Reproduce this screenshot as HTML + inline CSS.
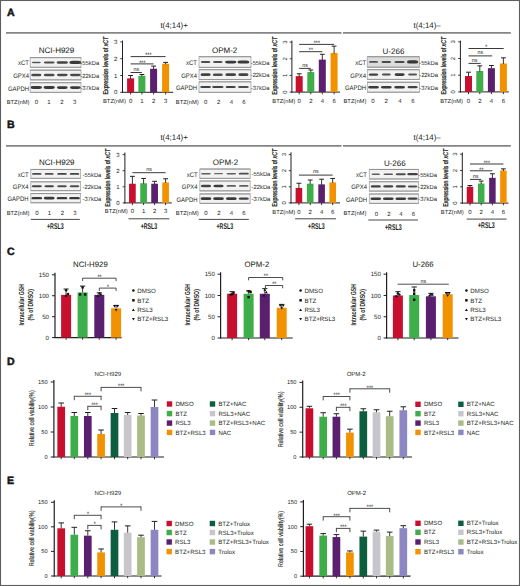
<!DOCTYPE html>
<html><head><meta charset="utf-8"><style>
html,body{margin:0;padding:0;background:#fff;}
svg{display:block;}
text{font-family:'Liberation Sans', sans-serif;fill:#231f20;text-rendering:geometricPrecision;}
text.t{stroke:#231f20;stroke-width:0.04px;}
</style></head><body>
<svg width="520" height="586" viewBox="0 0 520 586">
<defs><filter id="bl" x="-50%" y="-100%" width="200%" height="300%"><feGaussianBlur stdDeviation="0.68"/></filter></defs>
<rect width="520" height="586" fill="#fff"/>
<rect x="0.5" y="0.5" width="519" height="585" fill="none" stroke="#5e5e5e" stroke-width="1.1"/>
<text x="6.9" y="15.54" font-size="10.6" font-weight="bold" fill="#000" stroke="#000" stroke-width="0.45">A</text>
<text x="6.9" y="127.99" font-size="10.6" font-weight="bold" fill="#000" stroke="#000" stroke-width="0.45">B</text>
<text x="6.9" y="254.59" font-size="10.6" font-weight="bold" fill="#000" stroke="#000" stroke-width="0.45">C</text>
<text x="6.9" y="364.64" font-size="10.6" font-weight="bold" fill="#000" stroke="#000" stroke-width="0.45">D</text>
<text x="6.9" y="483.69" font-size="10.6" font-weight="bold" fill="#000" stroke="#000" stroke-width="0.45">E</text>
<line x1="6.00" y1="32.90" x2="341.50" y2="32.90" stroke="#858585" stroke-width="1.8"/>
<line x1="343.00" y1="32.90" x2="510.80" y2="32.90" stroke="#858585" stroke-width="1.8"/>
<line x1="6.00" y1="145.80" x2="341.50" y2="145.80" stroke="#858585" stroke-width="1.8"/>
<line x1="343.00" y1="145.80" x2="510.80" y2="145.80" stroke="#858585" stroke-width="1.8"/>
<text x="174.10" y="28.03" font-size="7.9" text-anchor="middle">t(4;14)+</text>
<text x="427.10" y="28.03" font-size="7.9" text-anchor="middle">t(4;14)–</text>
<text x="174.10" y="140.23" font-size="7.9" text-anchor="middle">t(4;14)+</text>
<text x="427.10" y="140.23" font-size="7.9" text-anchor="middle">t(4;14)–</text>
<text x="56.50" y="53.26" font-size="8.0" class="t" text-anchor="middle">NCI-H929</text>
<rect x="30.20" y="57.50" width="50.80" height="9.90" fill="#f2f2f2" stroke="#a8a8a8" stroke-width="0.8"/>
<line x1="30.20" y1="57.70" x2="81.00" y2="57.70" stroke="#8c8c8c" stroke-width="0.9"/>
<line x1="30.20" y1="67.20" x2="81.00" y2="67.20" stroke="#929292" stroke-width="0.9"/>
<rect x="31.80" y="61.65" width="9.00" height="1.60" rx="1.44" ry="0.80" fill="#1c1c1c" opacity="0.73" filter="url(#bl)"/>
<rect x="43.80" y="61.45" width="10.80" height="2.00" rx="1.80" ry="1.00" fill="#1c1c1c" opacity="0.77" filter="url(#bl)"/>
<rect x="56.60" y="61.15" width="11.40" height="2.60" rx="2.34" ry="1.30" fill="#1c1c1c" opacity="0.82" filter="url(#bl)"/>
<rect x="69.30" y="60.85" width="12.00" height="3.20" rx="2.88" ry="1.60" fill="#1c1c1c" opacity="0.86" filter="url(#bl)"/>
<text transform="translate(29.00,65.41) scale(0.9,1)" font-size="6.6" text-anchor="end">xCT</text>
<text transform="translate(80.40,65.10) scale(0.97,1)" font-size="6.0">-55kDa</text>
<rect x="30.20" y="70.00" width="50.80" height="10.00" fill="#f2f2f2" stroke="#a8a8a8" stroke-width="0.8"/>
<line x1="30.20" y1="70.20" x2="81.00" y2="70.20" stroke="#8c8c8c" stroke-width="0.9"/>
<line x1="30.20" y1="79.80" x2="81.00" y2="79.80" stroke="#929292" stroke-width="0.9"/>
<rect x="31.20" y="73.80" width="10.20" height="2.40" rx="2.16" ry="1.20" fill="#1c1c1c" opacity="0.79" filter="url(#bl)"/>
<rect x="43.80" y="73.80" width="10.80" height="2.40" rx="2.16" ry="1.20" fill="#1c1c1c" opacity="0.79" filter="url(#bl)"/>
<rect x="56.90" y="73.85" width="10.80" height="2.30" rx="2.07" ry="1.15" fill="#1c1c1c" opacity="0.79" filter="url(#bl)"/>
<rect x="69.90" y="73.85" width="10.80" height="2.30" rx="2.07" ry="1.15" fill="#1c1c1c" opacity="0.79" filter="url(#bl)"/>
<text transform="translate(29.00,77.96) scale(0.9,1)" font-size="6.6" text-anchor="end">GPX4</text>
<text transform="translate(80.40,77.65) scale(0.97,1)" font-size="6.0">-22kDa</text>
<rect x="30.20" y="82.60" width="50.80" height="9.90" fill="#f2f2f2" stroke="#a8a8a8" stroke-width="0.8"/>
<line x1="30.20" y1="82.80" x2="81.00" y2="82.80" stroke="#8c8c8c" stroke-width="0.9"/>
<line x1="30.20" y1="92.30" x2="81.00" y2="92.30" stroke="#929292" stroke-width="0.9"/>
<rect x="30.60" y="86.10" width="11.40" height="2.90" rx="2.61" ry="1.45" fill="#1c1c1c" opacity="0.86" filter="url(#bl)"/>
<rect x="43.50" y="86.10" width="11.40" height="2.90" rx="2.61" ry="1.45" fill="#1c1c1c" opacity="0.86" filter="url(#bl)"/>
<rect x="56.90" y="86.20" width="10.80" height="2.70" rx="2.43" ry="1.35" fill="#1c1c1c" opacity="0.86" filter="url(#bl)"/>
<rect x="69.90" y="86.20" width="10.80" height="2.70" rx="2.43" ry="1.35" fill="#1c1c1c" opacity="0.86" filter="url(#bl)"/>
<text transform="translate(29.00,90.51) scale(0.9,1)" font-size="6.6" text-anchor="end">GAPDH</text>
<text transform="translate(80.40,90.20) scale(0.97,1)" font-size="6.0">-37kDa</text>
<text x="6.70" y="103.58" font-size="5.8">BTZ(nM)</text>
<text x="36.50" y="103.65" font-size="6.0" text-anchor="middle">0</text>
<text x="49.00" y="103.65" font-size="6.0" text-anchor="middle">1</text>
<text x="62.00" y="103.65" font-size="6.0" text-anchor="middle">2</text>
<text x="74.60" y="103.65" font-size="6.0" text-anchor="middle">3</text>
<text x="224.60" y="53.26" font-size="8.0" class="t" text-anchor="middle">OPM-2</text>
<rect x="199.00" y="56.60" width="52.00" height="10.90" fill="#f2f2f2" stroke="#a8a8a8" stroke-width="0.8"/>
<line x1="199.00" y1="56.80" x2="251.00" y2="56.80" stroke="#8c8c8c" stroke-width="0.9"/>
<line x1="199.00" y1="67.30" x2="251.00" y2="67.30" stroke="#929292" stroke-width="0.9"/>
<rect x="200.80" y="61.05" width="9.60" height="2.00" rx="1.80" ry="1.00" fill="#1c1c1c" opacity="0.77" filter="url(#bl)"/>
<rect x="213.00" y="61.05" width="9.60" height="2.00" rx="1.80" ry="1.00" fill="#1c1c1c" opacity="0.77" filter="url(#bl)"/>
<rect x="225.00" y="60.65" width="11.40" height="2.80" rx="2.52" ry="1.40" fill="#1c1c1c" opacity="0.86" filter="url(#bl)"/>
<rect x="237.40" y="60.55" width="12.00" height="3.00" rx="2.70" ry="1.50" fill="#1c1c1c" opacity="0.86" filter="url(#bl)"/>
<text transform="translate(197.00,65.01) scale(0.9,1)" font-size="6.6" text-anchor="end">xCT</text>
<text transform="translate(250.70,64.70) scale(0.97,1)" font-size="6.0">-55kDa</text>
<rect x="199.00" y="69.60" width="52.00" height="10.10" fill="#f2f2f2" stroke="#a8a8a8" stroke-width="0.8"/>
<line x1="199.00" y1="69.80" x2="251.00" y2="69.80" stroke="#8c8c8c" stroke-width="0.9"/>
<line x1="199.00" y1="79.50" x2="251.00" y2="79.50" stroke="#929292" stroke-width="0.9"/>
<rect x="200.50" y="73.35" width="10.20" height="2.60" rx="2.34" ry="1.30" fill="#1c1c1c" opacity="0.82" filter="url(#bl)"/>
<rect x="212.70" y="73.40" width="10.20" height="2.50" rx="2.25" ry="1.25" fill="#1c1c1c" opacity="0.77" filter="url(#bl)"/>
<rect x="225.30" y="73.35" width="10.80" height="2.60" rx="2.34" ry="1.30" fill="#1c1c1c" opacity="0.82" filter="url(#bl)"/>
<rect x="238.30" y="73.35" width="10.20" height="2.60" rx="2.34" ry="1.30" fill="#1c1c1c" opacity="0.82" filter="url(#bl)"/>
<text transform="translate(197.00,77.61) scale(0.9,1)" font-size="6.6" text-anchor="end">GPX4</text>
<text transform="translate(250.70,77.30) scale(0.97,1)" font-size="6.0">-22kDa</text>
<rect x="199.00" y="81.70" width="52.00" height="10.80" fill="#f2f2f2" stroke="#a8a8a8" stroke-width="0.8"/>
<line x1="199.00" y1="81.90" x2="251.00" y2="81.90" stroke="#8c8c8c" stroke-width="0.9"/>
<line x1="199.00" y1="92.30" x2="251.00" y2="92.30" stroke="#929292" stroke-width="0.9"/>
<rect x="200.20" y="86.10" width="10.80" height="2.00" rx="1.80" ry="1.00" fill="#1c1c1c" opacity="0.82" filter="url(#bl)"/>
<rect x="212.10" y="86.10" width="11.40" height="2.00" rx="1.80" ry="1.00" fill="#1c1c1c" opacity="0.82" filter="url(#bl)"/>
<rect x="225.60" y="86.10" width="10.20" height="2.00" rx="1.80" ry="1.00" fill="#1c1c1c" opacity="0.82" filter="url(#bl)"/>
<rect x="238.00" y="86.10" width="10.80" height="2.00" rx="1.80" ry="1.00" fill="#1c1c1c" opacity="0.77" filter="url(#bl)"/>
<text transform="translate(197.00,90.06) scale(0.9,1)" font-size="6.6" text-anchor="end">GAPDH</text>
<text transform="translate(250.70,89.75) scale(0.97,1)" font-size="6.0">-37kDa</text>
<text x="175.80" y="103.58" font-size="5.8">BTZ(nM)</text>
<text x="205.60" y="103.65" font-size="6.0" text-anchor="middle">0</text>
<text x="218.70" y="103.65" font-size="6.0" text-anchor="middle">2</text>
<text x="231.50" y="103.65" font-size="6.0" text-anchor="middle">4</text>
<text x="244.00" y="103.65" font-size="6.0" text-anchor="middle">6</text>
<text x="393.50" y="53.96" font-size="8.0" class="t" text-anchor="middle">U-266</text>
<rect x="367.30" y="56.60" width="52.10" height="10.70" fill="#dcdcdc" stroke="#a8a8a8" stroke-width="0.8"/>
<line x1="367.30" y1="56.80" x2="419.40" y2="56.80" stroke="#8c8c8c" stroke-width="0.9"/>
<line x1="367.30" y1="67.10" x2="419.40" y2="67.10" stroke="#929292" stroke-width="0.9"/>
<rect x="369.00" y="61.05" width="9.00" height="1.80" rx="1.62" ry="0.90" fill="#1c1c1c" opacity="0.73" filter="url(#bl)"/>
<rect x="381.50" y="60.95" width="9.60" height="2.00" rx="1.80" ry="1.00" fill="#1c1c1c" opacity="0.77" filter="url(#bl)"/>
<rect x="394.50" y="60.95" width="10.20" height="2.00" rx="1.80" ry="1.00" fill="#1c1c1c" opacity="0.77" filter="url(#bl)"/>
<rect x="406.90" y="60.35" width="11.40" height="3.20" rx="2.88" ry="1.60" fill="#1c1c1c" opacity="0.86" filter="url(#bl)"/>
<text transform="translate(366.10,64.91) scale(0.9,1)" font-size="6.6" text-anchor="end">xCT</text>
<text transform="translate(419.20,64.60) scale(0.97,1)" font-size="6.0">-55kDa</text>
<rect x="367.30" y="69.60" width="52.10" height="10.00" fill="#f2f2f2" stroke="#a8a8a8" stroke-width="0.8"/>
<line x1="367.30" y1="69.80" x2="419.40" y2="69.80" stroke="#8c8c8c" stroke-width="0.9"/>
<line x1="367.30" y1="79.40" x2="419.40" y2="79.40" stroke="#929292" stroke-width="0.9"/>
<rect x="368.70" y="73.40" width="9.60" height="2.40" rx="2.16" ry="1.20" fill="#1c1c1c" opacity="0.82" filter="url(#bl)"/>
<rect x="381.80" y="73.60" width="9.00" height="2.00" rx="1.80" ry="1.00" fill="#1c1c1c" opacity="0.77" filter="url(#bl)"/>
<rect x="394.50" y="73.30" width="10.20" height="2.60" rx="2.34" ry="1.30" fill="#1c1c1c" opacity="0.86" filter="url(#bl)"/>
<rect x="408.10" y="73.60" width="9.00" height="2.00" rx="1.80" ry="1.00" fill="#1c1c1c" opacity="0.73" filter="url(#bl)"/>
<text transform="translate(366.10,77.56) scale(0.9,1)" font-size="6.6" text-anchor="end">GPX4</text>
<text transform="translate(419.20,77.25) scale(0.97,1)" font-size="6.0">-22kDa</text>
<rect x="367.30" y="82.10" width="52.10" height="10.20" fill="#f2f2f2" stroke="#a8a8a8" stroke-width="0.8"/>
<line x1="367.30" y1="82.30" x2="419.40" y2="82.30" stroke="#8c8c8c" stroke-width="0.9"/>
<line x1="367.30" y1="92.10" x2="419.40" y2="92.10" stroke="#929292" stroke-width="0.9"/>
<rect x="368.10" y="86.00" width="10.80" height="2.40" rx="2.16" ry="1.20" fill="#1c1c1c" opacity="0.86" filter="url(#bl)"/>
<rect x="380.90" y="86.00" width="10.80" height="2.40" rx="2.16" ry="1.20" fill="#1c1c1c" opacity="0.86" filter="url(#bl)"/>
<rect x="394.20" y="86.00" width="10.80" height="2.40" rx="2.16" ry="1.20" fill="#1c1c1c" opacity="0.86" filter="url(#bl)"/>
<rect x="407.50" y="86.10" width="10.20" height="2.20" rx="1.98" ry="1.10" fill="#1c1c1c" opacity="0.82" filter="url(#bl)"/>
<text transform="translate(366.10,90.16) scale(0.9,1)" font-size="6.6" text-anchor="end">GAPDH</text>
<text transform="translate(419.20,89.85) scale(0.97,1)" font-size="6.0">-37kDa</text>
<text x="343.50" y="103.38" font-size="5.8">BTZ(nM)</text>
<text x="373.00" y="103.45" font-size="6.0" text-anchor="middle">0</text>
<text x="386.20" y="103.45" font-size="6.0" text-anchor="middle">2</text>
<text x="400.00" y="103.45" font-size="6.0" text-anchor="middle">4</text>
<text x="413.00" y="103.45" font-size="6.0" text-anchor="middle">6</text>
<text x="56.80" y="165.16" font-size="8.0" class="t" text-anchor="middle">NCI-H929</text>
<rect x="30.80" y="169.30" width="49.80" height="9.20" fill="#f2f2f2" stroke="#a8a8a8" stroke-width="0.8"/>
<line x1="30.80" y1="169.50" x2="80.60" y2="169.50" stroke="#8c8c8c" stroke-width="0.9"/>
<line x1="30.80" y1="178.30" x2="80.60" y2="178.30" stroke="#929292" stroke-width="0.9"/>
<rect x="32.00" y="173.00" width="9.60" height="1.80" rx="1.62" ry="0.90" fill="#1c1c1c" opacity="0.79" filter="url(#bl)"/>
<rect x="44.70" y="173.05" width="9.00" height="1.70" rx="1.53" ry="0.85" fill="#1c1c1c" opacity="0.76" filter="url(#bl)"/>
<rect x="57.20" y="172.95" width="9.60" height="1.90" rx="1.71" ry="0.95" fill="#1c1c1c" opacity="0.82" filter="url(#bl)"/>
<rect x="69.70" y="172.95" width="9.60" height="1.90" rx="1.71" ry="0.95" fill="#1c1c1c" opacity="0.82" filter="url(#bl)"/>
<text transform="translate(28.60,176.86) scale(0.9,1)" font-size="6.6" text-anchor="end">xCT</text>
<text transform="translate(82.60,176.55) scale(0.97,1)" font-size="6.0">-55kDa</text>
<rect x="30.80" y="181.70" width="49.80" height="9.10" fill="#f2f2f2" stroke="#a8a8a8" stroke-width="0.8"/>
<line x1="30.80" y1="181.90" x2="80.60" y2="181.90" stroke="#8c8c8c" stroke-width="0.9"/>
<line x1="30.80" y1="190.60" x2="80.60" y2="190.60" stroke="#929292" stroke-width="0.9"/>
<rect x="31.70" y="185.15" width="10.20" height="2.20" rx="1.98" ry="1.10" fill="#1c1c1c" opacity="0.82" filter="url(#bl)"/>
<rect x="44.40" y="185.15" width="9.60" height="2.20" rx="1.98" ry="1.10" fill="#1c1c1c" opacity="0.82" filter="url(#bl)"/>
<rect x="57.20" y="185.25" width="9.60" height="2.00" rx="1.80" ry="1.00" fill="#1c1c1c" opacity="0.77" filter="url(#bl)"/>
<rect x="69.70" y="185.25" width="9.60" height="2.00" rx="1.80" ry="1.00" fill="#1c1c1c" opacity="0.77" filter="url(#bl)"/>
<text transform="translate(28.60,189.21) scale(0.9,1)" font-size="6.6" text-anchor="end">GPX4</text>
<text transform="translate(82.60,188.90) scale(0.97,1)" font-size="6.0">-22kDa</text>
<rect x="30.80" y="193.40" width="49.80" height="9.50" fill="#f2f2f2" stroke="#a8a8a8" stroke-width="0.8"/>
<line x1="30.80" y1="193.60" x2="80.60" y2="193.60" stroke="#8c8c8c" stroke-width="0.9"/>
<line x1="30.80" y1="202.70" x2="80.60" y2="202.70" stroke="#929292" stroke-width="0.9"/>
<rect x="31.40" y="196.95" width="10.80" height="2.40" rx="2.16" ry="1.20" fill="#1c1c1c" opacity="0.86" filter="url(#bl)"/>
<rect x="43.80" y="196.85" width="10.80" height="2.60" rx="2.34" ry="1.30" fill="#1c1c1c" opacity="0.86" filter="url(#bl)"/>
<rect x="56.60" y="196.95" width="10.80" height="2.40" rx="2.16" ry="1.20" fill="#1c1c1c" opacity="0.86" filter="url(#bl)"/>
<rect x="69.10" y="196.95" width="10.80" height="2.40" rx="2.16" ry="1.20" fill="#1c1c1c" opacity="0.86" filter="url(#bl)"/>
<text transform="translate(28.60,201.11) scale(0.9,1)" font-size="6.6" text-anchor="end">GAPDH</text>
<text transform="translate(82.60,200.80) scale(0.97,1)" font-size="6.0">-37kDa</text>
<text x="6.70" y="215.18" font-size="5.8">BTZ(nM)</text>
<text x="37.00" y="215.25" font-size="6.0" text-anchor="middle">0</text>
<text x="49.50" y="215.25" font-size="6.0" text-anchor="middle">1</text>
<text x="62.50" y="215.25" font-size="6.0" text-anchor="middle">2</text>
<text x="75.00" y="215.25" font-size="6.0" text-anchor="middle">3</text>
<text x="225.50" y="165.36" font-size="8.0" class="t" text-anchor="middle">OPM-2</text>
<rect x="199.80" y="168.90" width="50.40" height="9.60" fill="#f2f2f2" stroke="#a8a8a8" stroke-width="0.8"/>
<line x1="199.80" y1="169.10" x2="250.20" y2="169.10" stroke="#8c8c8c" stroke-width="0.9"/>
<line x1="199.80" y1="178.30" x2="250.20" y2="178.30" stroke="#929292" stroke-width="0.9"/>
<rect x="201.20" y="173.00" width="9.60" height="1.40" rx="1.26" ry="0.70" fill="#1c1c1c" opacity="0.69" filter="url(#bl)"/>
<rect x="214.00" y="173.05" width="9.00" height="1.30" rx="1.17" ry="0.65" fill="#1c1c1c" opacity="0.65" filter="url(#bl)"/>
<rect x="226.50" y="172.95" width="9.60" height="1.50" rx="1.35" ry="0.75" fill="#1c1c1c" opacity="0.69" filter="url(#bl)"/>
<rect x="238.70" y="172.80" width="10.20" height="1.80" rx="1.62" ry="0.90" fill="#1c1c1c" opacity="0.77" filter="url(#bl)"/>
<text transform="translate(197.60,176.66) scale(0.9,1)" font-size="6.6" text-anchor="end">xCT</text>
<text transform="translate(251.60,176.35) scale(0.97,1)" font-size="6.0">-55kDa</text>
<rect x="199.80" y="180.90" width="50.40" height="10.10" fill="#f2f2f2" stroke="#a8a8a8" stroke-width="0.8"/>
<line x1="199.80" y1="181.10" x2="250.20" y2="181.10" stroke="#8c8c8c" stroke-width="0.9"/>
<line x1="199.80" y1="190.80" x2="250.20" y2="190.80" stroke="#929292" stroke-width="0.9"/>
<rect x="200.90" y="184.75" width="10.20" height="2.40" rx="2.16" ry="1.20" fill="#1c1c1c" opacity="0.82" filter="url(#bl)"/>
<rect x="213.40" y="184.65" width="10.20" height="2.60" rx="2.34" ry="1.30" fill="#1c1c1c" opacity="0.86" filter="url(#bl)"/>
<rect x="226.50" y="185.05" width="9.60" height="1.80" rx="1.62" ry="0.90" fill="#1c1c1c" opacity="0.69" filter="url(#bl)"/>
<rect x="239.00" y="185.05" width="9.60" height="1.80" rx="1.62" ry="0.90" fill="#1c1c1c" opacity="0.69" filter="url(#bl)"/>
<text transform="translate(197.60,188.91) scale(0.9,1)" font-size="6.6" text-anchor="end">GPX4</text>
<text transform="translate(251.60,188.60) scale(0.97,1)" font-size="6.0">-22kDa</text>
<rect x="199.80" y="193.80" width="50.40" height="9.70" fill="#f2f2f2" stroke="#a8a8a8" stroke-width="0.8"/>
<line x1="199.80" y1="194.00" x2="250.20" y2="194.00" stroke="#8c8c8c" stroke-width="0.9"/>
<line x1="199.80" y1="203.30" x2="250.20" y2="203.30" stroke="#929292" stroke-width="0.9"/>
<rect x="200.60" y="197.35" width="10.80" height="2.60" rx="2.34" ry="1.30" fill="#1c1c1c" opacity="0.86" filter="url(#bl)"/>
<rect x="213.10" y="197.35" width="10.80" height="2.60" rx="2.34" ry="1.30" fill="#1c1c1c" opacity="0.86" filter="url(#bl)"/>
<rect x="225.90" y="197.35" width="10.80" height="2.60" rx="2.34" ry="1.30" fill="#1c1c1c" opacity="0.86" filter="url(#bl)"/>
<rect x="238.70" y="197.55" width="10.20" height="2.20" rx="1.98" ry="1.10" fill="#1c1c1c" opacity="0.82" filter="url(#bl)"/>
<text transform="translate(197.60,201.61) scale(0.9,1)" font-size="6.6" text-anchor="end">GAPDH</text>
<text transform="translate(251.60,201.30) scale(0.97,1)" font-size="6.0">-37kDa</text>
<text x="175.80" y="215.08" font-size="5.8">BTZ(nM)</text>
<text x="206.00" y="215.15" font-size="6.0" text-anchor="middle">0</text>
<text x="219.00" y="215.15" font-size="6.0" text-anchor="middle">2</text>
<text x="231.50" y="215.15" font-size="6.0" text-anchor="middle">4</text>
<text x="244.00" y="215.15" font-size="6.0" text-anchor="middle">6</text>
<text x="394.80" y="165.86" font-size="8.0" class="t" text-anchor="middle">U-266</text>
<rect x="369.30" y="169.30" width="49.20" height="9.80" fill="#f2f2f2" stroke="#a8a8a8" stroke-width="0.8"/>
<line x1="369.30" y1="169.50" x2="418.50" y2="169.50" stroke="#8c8c8c" stroke-width="0.9"/>
<line x1="369.30" y1="178.90" x2="418.50" y2="178.90" stroke="#929292" stroke-width="0.9"/>
<rect x="371.60" y="173.50" width="8.40" height="1.40" rx="1.26" ry="0.70" fill="#1c1c1c" opacity="0.69" filter="url(#bl)"/>
<rect x="383.50" y="173.40" width="9.60" height="1.60" rx="1.44" ry="0.80" fill="#1c1c1c" opacity="0.73" filter="url(#bl)"/>
<rect x="395.70" y="173.20" width="10.20" height="2.00" rx="1.80" ry="1.00" fill="#1c1c1c" opacity="0.77" filter="url(#bl)"/>
<rect x="407.20" y="173.10" width="10.80" height="2.20" rx="1.98" ry="1.10" fill="#1c1c1c" opacity="0.82" filter="url(#bl)"/>
<text transform="translate(367.00,177.16) scale(0.9,1)" font-size="6.6" text-anchor="end">xCT</text>
<text transform="translate(418.20,176.85) scale(0.97,1)" font-size="6.0">-55kDa</text>
<rect x="369.30" y="181.60" width="49.20" height="9.60" fill="#f2f2f2" stroke="#a8a8a8" stroke-width="0.8"/>
<line x1="369.30" y1="181.80" x2="418.50" y2="181.80" stroke="#8c8c8c" stroke-width="0.9"/>
<line x1="369.30" y1="191.00" x2="418.50" y2="191.00" stroke="#929292" stroke-width="0.9"/>
<rect x="370.70" y="185.20" width="10.20" height="2.40" rx="2.16" ry="1.20" fill="#1c1c1c" opacity="0.82" filter="url(#bl)"/>
<rect x="383.20" y="185.30" width="10.20" height="2.20" rx="1.98" ry="1.10" fill="#1c1c1c" opacity="0.82" filter="url(#bl)"/>
<rect x="395.70" y="185.30" width="10.20" height="2.20" rx="1.98" ry="1.10" fill="#1c1c1c" opacity="0.82" filter="url(#bl)"/>
<rect x="407.80" y="185.40" width="9.60" height="2.00" rx="1.80" ry="1.00" fill="#1c1c1c" opacity="0.77" filter="url(#bl)"/>
<text transform="translate(367.00,189.36) scale(0.9,1)" font-size="6.6" text-anchor="end">GPX4</text>
<text transform="translate(418.20,189.05) scale(0.97,1)" font-size="6.0">-22kDa</text>
<rect x="369.30" y="193.90" width="49.20" height="9.60" fill="#f2f2f2" stroke="#a8a8a8" stroke-width="0.8"/>
<line x1="369.30" y1="194.10" x2="418.50" y2="194.10" stroke="#8c8c8c" stroke-width="0.9"/>
<line x1="369.30" y1="203.30" x2="418.50" y2="203.30" stroke="#929292" stroke-width="0.9"/>
<rect x="370.40" y="197.50" width="10.80" height="2.40" rx="2.16" ry="1.20" fill="#1c1c1c" opacity="0.86" filter="url(#bl)"/>
<rect x="382.90" y="197.50" width="10.80" height="2.40" rx="2.16" ry="1.20" fill="#1c1c1c" opacity="0.86" filter="url(#bl)"/>
<rect x="395.40" y="197.50" width="10.80" height="2.40" rx="2.16" ry="1.20" fill="#1c1c1c" opacity="0.86" filter="url(#bl)"/>
<rect x="407.50" y="197.60" width="10.20" height="2.20" rx="1.98" ry="1.10" fill="#1c1c1c" opacity="0.82" filter="url(#bl)"/>
<text transform="translate(367.00,201.66) scale(0.9,1)" font-size="6.6" text-anchor="end">GAPDH</text>
<text transform="translate(418.20,201.35) scale(0.97,1)" font-size="6.0">-37kDa</text>
<text x="343.50" y="215.48" font-size="5.8">BTZ(nM)</text>
<text x="376.50" y="215.55" font-size="6.0" text-anchor="middle">0</text>
<text x="388.80" y="215.55" font-size="6.0" text-anchor="middle">2</text>
<text x="400.90" y="215.55" font-size="6.0" text-anchor="middle">4</text>
<text x="413.40" y="215.55" font-size="6.0" text-anchor="middle">6</text>
<line x1="30.80" y1="219.40" x2="79.80" y2="219.40" stroke="#333" stroke-width="0.9"/>
<text transform="translate(55.30,229.11) scale(0.63,1)" font-size="8.4" text-anchor="middle" font-weight="bold">+RSL3</text>
<line x1="198.80" y1="219.40" x2="248.80" y2="219.40" stroke="#333" stroke-width="0.9"/>
<text transform="translate(224.80,229.21) scale(0.63,1)" font-size="8.4" text-anchor="middle" font-weight="bold">+RSL3</text>
<line x1="368.30" y1="220.00" x2="417.90" y2="220.00" stroke="#333" stroke-width="0.9"/>
<text transform="translate(393.30,229.61) scale(0.63,1)" font-size="8.4" text-anchor="middle" font-weight="bold">+RSL3</text>
<line x1="128.50" y1="218.80" x2="169.30" y2="218.80" stroke="#333" stroke-width="0.9"/>
<text transform="translate(149.00,228.81) scale(0.63,1)" font-size="8.4" text-anchor="middle" font-weight="bold">+RSL3</text>
<line x1="295.10" y1="218.80" x2="336.00" y2="218.80" stroke="#333" stroke-width="0.9"/>
<text transform="translate(316.40,228.61) scale(0.63,1)" font-size="8.4" text-anchor="middle" font-weight="bold">+RSL3</text>
<line x1="466.70" y1="219.10" x2="506.50" y2="219.10" stroke="#333" stroke-width="0.9"/>
<text transform="translate(486.30,228.41) scale(0.63,1)" font-size="8.4" text-anchor="middle" font-weight="bold">+RSL3</text>
<line x1="122.50" y1="40.60" x2="122.50" y2="92.80" stroke="#231f20" stroke-width="1.0"/>
<line x1="122.00" y1="92.30" x2="173.20" y2="92.30" stroke="#231f20" stroke-width="1.0"/>
<line x1="120.30" y1="92.30" x2="122.50" y2="92.30" stroke="#231f20" stroke-width="0.9"/>
<text x="115.60" y="94.45" font-size="6.0" text-anchor="middle">0</text>
<line x1="120.30" y1="75.50" x2="122.50" y2="75.50" stroke="#231f20" stroke-width="0.9"/>
<text x="115.60" y="77.65" font-size="6.0" text-anchor="middle">1</text>
<line x1="120.30" y1="58.70" x2="122.50" y2="58.70" stroke="#231f20" stroke-width="0.9"/>
<text x="115.60" y="60.85" font-size="6.0" text-anchor="middle">2</text>
<line x1="120.30" y1="41.90" x2="122.50" y2="41.90" stroke="#231f20" stroke-width="0.9"/>
<text x="115.60" y="44.05" font-size="6.0" text-anchor="middle">3</text>
<rect x="127.10" y="78.36" width="7.00" height="13.94" fill="#c8102e"/>
<line x1="130.60" y1="75.50" x2="130.60" y2="78.86" stroke="#231f20" stroke-width="0.9"/>
<line x1="128.20" y1="75.50" x2="133.00" y2="75.50" stroke="#231f20" stroke-width="1.0"/>
<line x1="130.60" y1="92.30" x2="130.60" y2="94.50" stroke="#231f20" stroke-width="0.9"/>
<rect x="138.40" y="75.84" width="7.00" height="16.46" fill="#3dae49"/>
<line x1="141.90" y1="74.49" x2="141.90" y2="76.34" stroke="#231f20" stroke-width="0.9"/>
<line x1="139.50" y1="74.49" x2="144.30" y2="74.49" stroke="#231f20" stroke-width="1.0"/>
<line x1="141.90" y1="92.30" x2="141.90" y2="94.50" stroke="#231f20" stroke-width="0.9"/>
<rect x="150.10" y="68.78" width="7.00" height="23.52" fill="#5a1f6e"/>
<line x1="153.60" y1="66.09" x2="153.60" y2="69.28" stroke="#231f20" stroke-width="0.9"/>
<line x1="151.20" y1="66.09" x2="156.00" y2="66.09" stroke="#231f20" stroke-width="1.0"/>
<line x1="153.60" y1="92.30" x2="153.60" y2="94.50" stroke="#231f20" stroke-width="0.9"/>
<rect x="162.10" y="63.74" width="7.00" height="28.56" fill="#f39200"/>
<line x1="165.60" y1="62.40" x2="165.60" y2="64.24" stroke="#231f20" stroke-width="0.9"/>
<line x1="163.20" y1="62.40" x2="168.00" y2="62.40" stroke="#231f20" stroke-width="1.0"/>
<line x1="165.60" y1="92.30" x2="165.60" y2="94.50" stroke="#231f20" stroke-width="0.9"/>
<line x1="130.60" y1="72.50" x2="141.90" y2="72.50" stroke="#3a3a3a" stroke-width="1.0"/>
<text x="136.25" y="70.70" font-size="5.4" text-anchor="middle">ns</text>
<line x1="130.60" y1="63.90" x2="153.60" y2="63.90" stroke="#3a3a3a" stroke-width="1.0"/>
<text x="142.10" y="64.64" font-size="6.4" text-anchor="middle" letter-spacing="-0.35">***</text>
<line x1="130.60" y1="56.60" x2="165.60" y2="56.60" stroke="#3a3a3a" stroke-width="1.0"/>
<text x="148.10" y="57.34" font-size="6.4" text-anchor="middle" letter-spacing="-0.35">***</text>
<text transform="translate(108.41,65.55) rotate(-90) scale(0.75,1)" font-size="7.0" stroke="#231f20" stroke-width="0.3" text-anchor="middle">Expression levels of <tspan font-style="italic">xCT</tspan></text>
<text x="103.00" y="103.28" font-size="5.8">BTZ(nM)</text>
<text x="130.60" y="103.35" font-size="6.0" text-anchor="middle">0</text>
<text x="141.90" y="103.35" font-size="6.0" text-anchor="middle">1</text>
<text x="153.60" y="103.35" font-size="6.0" text-anchor="middle">2</text>
<text x="165.60" y="103.35" font-size="6.0" text-anchor="middle">3</text>
<line x1="291.90" y1="40.60" x2="291.90" y2="92.60" stroke="#231f20" stroke-width="1.0"/>
<line x1="291.40" y1="92.10" x2="340.00" y2="92.10" stroke="#231f20" stroke-width="1.0"/>
<line x1="289.70" y1="92.10" x2="291.90" y2="92.10" stroke="#231f20" stroke-width="0.9"/>
<text transform="translate(286.55,92.10) rotate(-90)" font-size="6.0" text-anchor="middle">0</text>
<line x1="289.70" y1="75.45" x2="291.90" y2="75.45" stroke="#231f20" stroke-width="0.9"/>
<text transform="translate(286.55,75.45) rotate(-90)" font-size="6.0" text-anchor="middle">1</text>
<line x1="289.70" y1="58.80" x2="291.90" y2="58.80" stroke="#231f20" stroke-width="0.9"/>
<text transform="translate(286.55,58.80) rotate(-90)" font-size="6.0" text-anchor="middle">2</text>
<line x1="289.70" y1="42.15" x2="291.90" y2="42.15" stroke="#231f20" stroke-width="0.9"/>
<text transform="translate(286.55,42.15) rotate(-90)" font-size="6.0" text-anchor="middle">3</text>
<rect x="295.70" y="76.12" width="7.00" height="15.98" fill="#c8102e"/>
<line x1="299.20" y1="73.78" x2="299.20" y2="76.62" stroke="#231f20" stroke-width="0.9"/>
<line x1="296.80" y1="73.78" x2="301.60" y2="73.78" stroke="#231f20" stroke-width="1.0"/>
<line x1="299.20" y1="92.10" x2="299.20" y2="94.30" stroke="#231f20" stroke-width="0.9"/>
<rect x="307.30" y="72.12" width="7.00" height="19.98" fill="#3dae49"/>
<line x1="310.80" y1="69.96" x2="310.80" y2="72.62" stroke="#231f20" stroke-width="0.9"/>
<line x1="308.40" y1="69.96" x2="313.20" y2="69.96" stroke="#231f20" stroke-width="1.0"/>
<line x1="310.80" y1="92.10" x2="310.80" y2="94.30" stroke="#231f20" stroke-width="0.9"/>
<rect x="318.80" y="59.63" width="7.00" height="32.47" fill="#5a1f6e"/>
<line x1="322.30" y1="54.30" x2="322.30" y2="60.13" stroke="#231f20" stroke-width="0.9"/>
<line x1="319.90" y1="54.30" x2="324.70" y2="54.30" stroke="#231f20" stroke-width="1.0"/>
<line x1="322.30" y1="92.10" x2="322.30" y2="94.30" stroke="#231f20" stroke-width="0.9"/>
<rect x="330.60" y="52.97" width="7.00" height="39.13" fill="#f39200"/>
<line x1="334.10" y1="46.15" x2="334.10" y2="53.47" stroke="#231f20" stroke-width="0.9"/>
<line x1="331.70" y1="46.15" x2="336.50" y2="46.15" stroke="#231f20" stroke-width="1.0"/>
<line x1="334.10" y1="92.10" x2="334.10" y2="94.30" stroke="#231f20" stroke-width="0.9"/>
<line x1="299.20" y1="68.40" x2="310.80" y2="68.40" stroke="#3a3a3a" stroke-width="1.0"/>
<text x="305.00" y="66.60" font-size="5.4" text-anchor="middle">ns</text>
<line x1="299.20" y1="51.70" x2="322.30" y2="51.70" stroke="#3a3a3a" stroke-width="1.0"/>
<text x="310.75" y="52.44" font-size="6.4" text-anchor="middle" letter-spacing="-0.35">**</text>
<line x1="299.20" y1="44.40" x2="334.10" y2="44.40" stroke="#3a3a3a" stroke-width="1.0"/>
<text x="316.65" y="45.14" font-size="6.4" text-anchor="middle" letter-spacing="-0.35">***</text>
<text transform="translate(277.06,65.75) rotate(-90) scale(0.75,1)" font-size="7.0" stroke="#231f20" stroke-width="0.3" text-anchor="middle">Expression levels of <tspan font-style="italic">xCT</tspan></text>
<text x="272.30" y="102.98" font-size="5.8">BTZ(nM)</text>
<text x="299.20" y="103.05" font-size="6.0" text-anchor="middle">0</text>
<text x="310.80" y="103.05" font-size="6.0" text-anchor="middle">2</text>
<text x="322.30" y="103.05" font-size="6.0" text-anchor="middle">4</text>
<text x="334.10" y="103.05" font-size="6.0" text-anchor="middle">6</text>
<line x1="460.40" y1="40.60" x2="460.40" y2="92.40" stroke="#231f20" stroke-width="1.0"/>
<line x1="459.90" y1="91.90" x2="508.80" y2="91.90" stroke="#231f20" stroke-width="1.0"/>
<line x1="458.20" y1="91.90" x2="460.40" y2="91.90" stroke="#231f20" stroke-width="0.9"/>
<text transform="translate(455.05,91.90) rotate(-90)" font-size="6.0" text-anchor="middle">0</text>
<line x1="458.20" y1="75.20" x2="460.40" y2="75.20" stroke="#231f20" stroke-width="0.9"/>
<text transform="translate(455.05,75.20) rotate(-90)" font-size="6.0" text-anchor="middle">1</text>
<line x1="458.20" y1="58.50" x2="460.40" y2="58.50" stroke="#231f20" stroke-width="0.9"/>
<text transform="translate(455.05,58.50) rotate(-90)" font-size="6.0" text-anchor="middle">2</text>
<line x1="458.20" y1="41.80" x2="460.40" y2="41.80" stroke="#231f20" stroke-width="0.9"/>
<text transform="translate(455.05,41.80) rotate(-90)" font-size="6.0" text-anchor="middle">3</text>
<rect x="465.00" y="76.04" width="7.00" height="15.86" fill="#c8102e"/>
<line x1="468.50" y1="72.19" x2="468.50" y2="76.54" stroke="#231f20" stroke-width="0.9"/>
<line x1="466.10" y1="72.19" x2="470.90" y2="72.19" stroke="#231f20" stroke-width="1.0"/>
<line x1="468.50" y1="91.90" x2="468.50" y2="94.10" stroke="#231f20" stroke-width="0.9"/>
<rect x="476.30" y="71.03" width="7.00" height="20.88" fill="#3dae49"/>
<line x1="479.80" y1="65.85" x2="479.80" y2="71.53" stroke="#231f20" stroke-width="0.9"/>
<line x1="477.40" y1="65.85" x2="482.20" y2="65.85" stroke="#231f20" stroke-width="1.0"/>
<line x1="479.80" y1="91.90" x2="479.80" y2="94.10" stroke="#231f20" stroke-width="0.9"/>
<rect x="487.90" y="68.19" width="7.00" height="23.71" fill="#5a1f6e"/>
<line x1="491.40" y1="65.51" x2="491.40" y2="68.69" stroke="#231f20" stroke-width="0.9"/>
<line x1="489.00" y1="65.51" x2="493.80" y2="65.51" stroke="#231f20" stroke-width="1.0"/>
<line x1="491.40" y1="91.90" x2="491.40" y2="94.10" stroke="#231f20" stroke-width="0.9"/>
<rect x="499.90" y="63.51" width="7.00" height="28.39" fill="#f39200"/>
<line x1="503.40" y1="57.83" x2="503.40" y2="64.01" stroke="#231f20" stroke-width="0.9"/>
<line x1="501.00" y1="57.83" x2="505.80" y2="57.83" stroke="#231f20" stroke-width="1.0"/>
<line x1="503.40" y1="91.90" x2="503.40" y2="94.10" stroke="#231f20" stroke-width="0.9"/>
<line x1="468.50" y1="63.40" x2="480.70" y2="63.40" stroke="#3a3a3a" stroke-width="1.0"/>
<text x="474.60" y="61.60" font-size="5.4" text-anchor="middle">ns</text>
<line x1="468.50" y1="55.90" x2="492.20" y2="55.90" stroke="#3a3a3a" stroke-width="1.0"/>
<text x="480.35" y="54.10" font-size="5.4" text-anchor="middle">ns</text>
<line x1="468.50" y1="48.50" x2="503.70" y2="48.50" stroke="#3a3a3a" stroke-width="1.0"/>
<text x="486.10" y="49.24" font-size="6.4" text-anchor="middle" letter-spacing="-0.35">*</text>
<text transform="translate(446.01,65.65) rotate(-90) scale(0.75,1)" font-size="7.0" stroke="#231f20" stroke-width="0.3" text-anchor="middle">Expression levels of <tspan font-style="italic">xCT</tspan></text>
<text x="440.20" y="102.98" font-size="5.8">BTZ(nM)</text>
<text x="468.50" y="103.05" font-size="6.0" text-anchor="middle">0</text>
<text x="479.80" y="103.05" font-size="6.0" text-anchor="middle">2</text>
<text x="491.40" y="103.05" font-size="6.0" text-anchor="middle">4</text>
<text x="503.40" y="103.05" font-size="6.0" text-anchor="middle">6</text>
<line x1="124.90" y1="152.50" x2="124.90" y2="203.40" stroke="#231f20" stroke-width="1.0"/>
<line x1="124.40" y1="202.90" x2="171.80" y2="202.90" stroke="#231f20" stroke-width="1.0"/>
<line x1="122.70" y1="202.90" x2="124.90" y2="202.90" stroke="#231f20" stroke-width="0.9"/>
<text x="118.00" y="205.05" font-size="6.0" text-anchor="middle">0</text>
<line x1="122.70" y1="186.80" x2="124.90" y2="186.80" stroke="#231f20" stroke-width="0.9"/>
<text x="118.00" y="188.95" font-size="6.0" text-anchor="middle">1</text>
<line x1="122.70" y1="170.70" x2="124.90" y2="170.70" stroke="#231f20" stroke-width="0.9"/>
<text x="118.00" y="172.85" font-size="6.0" text-anchor="middle">2</text>
<line x1="122.70" y1="154.60" x2="124.90" y2="154.60" stroke="#231f20" stroke-width="0.9"/>
<text x="118.00" y="156.75" font-size="6.0" text-anchor="middle">3</text>
<rect x="129.05" y="183.74" width="6.70" height="19.16" fill="#c8102e"/>
<line x1="132.40" y1="176.34" x2="132.40" y2="184.24" stroke="#231f20" stroke-width="0.9"/>
<line x1="130.00" y1="176.34" x2="134.80" y2="176.34" stroke="#231f20" stroke-width="1.0"/>
<line x1="132.40" y1="202.90" x2="132.40" y2="205.10" stroke="#231f20" stroke-width="0.9"/>
<rect x="140.25" y="183.26" width="6.70" height="19.64" fill="#3dae49"/>
<line x1="143.60" y1="178.43" x2="143.60" y2="183.76" stroke="#231f20" stroke-width="0.9"/>
<line x1="141.20" y1="178.43" x2="146.00" y2="178.43" stroke="#231f20" stroke-width="1.0"/>
<line x1="143.60" y1="202.90" x2="143.60" y2="205.10" stroke="#231f20" stroke-width="0.9"/>
<rect x="151.25" y="183.74" width="6.70" height="19.16" fill="#5a1f6e"/>
<line x1="154.60" y1="181.33" x2="154.60" y2="184.24" stroke="#231f20" stroke-width="0.9"/>
<line x1="152.20" y1="181.33" x2="157.00" y2="181.33" stroke="#231f20" stroke-width="1.0"/>
<line x1="154.60" y1="202.90" x2="154.60" y2="205.10" stroke="#231f20" stroke-width="0.9"/>
<rect x="162.25" y="182.45" width="6.70" height="20.45" fill="#f39200"/>
<line x1="165.60" y1="178.75" x2="165.60" y2="182.95" stroke="#231f20" stroke-width="0.9"/>
<line x1="163.20" y1="178.75" x2="168.00" y2="178.75" stroke="#231f20" stroke-width="1.0"/>
<line x1="165.60" y1="202.90" x2="165.60" y2="205.10" stroke="#231f20" stroke-width="0.9"/>
<line x1="132.40" y1="172.70" x2="165.60" y2="172.70" stroke="#3a3a3a" stroke-width="1.0"/>
<text x="149.00" y="170.90" font-size="5.4" text-anchor="middle">ns</text>
<text transform="translate(110.41,177.75) rotate(-90) scale(0.75,1)" font-size="7.0" stroke="#231f20" stroke-width="0.3" text-anchor="middle">Expression levels of <tspan font-style="italic">xCT</tspan></text>
<text x="104.80" y="213.28" font-size="5.8">BTZ(nM)</text>
<text x="132.40" y="213.35" font-size="6.0" text-anchor="middle">0</text>
<text x="143.60" y="213.35" font-size="6.0" text-anchor="middle">1</text>
<text x="154.60" y="213.35" font-size="6.0" text-anchor="middle">2</text>
<text x="165.60" y="213.35" font-size="6.0" text-anchor="middle">3</text>
<line x1="291.00" y1="152.30" x2="291.00" y2="203.40" stroke="#231f20" stroke-width="1.0"/>
<line x1="290.50" y1="202.90" x2="340.00" y2="202.90" stroke="#231f20" stroke-width="1.0"/>
<line x1="288.80" y1="202.90" x2="291.00" y2="202.90" stroke="#231f20" stroke-width="0.9"/>
<text transform="translate(286.35,202.90) rotate(-90)" font-size="6.0" text-anchor="middle">0</text>
<line x1="288.80" y1="186.80" x2="291.00" y2="186.80" stroke="#231f20" stroke-width="0.9"/>
<text transform="translate(286.35,186.80) rotate(-90)" font-size="6.0" text-anchor="middle">1</text>
<line x1="288.80" y1="170.70" x2="291.00" y2="170.70" stroke="#231f20" stroke-width="0.9"/>
<text transform="translate(286.35,170.70) rotate(-90)" font-size="6.0" text-anchor="middle">2</text>
<line x1="288.80" y1="154.60" x2="291.00" y2="154.60" stroke="#231f20" stroke-width="0.9"/>
<text transform="translate(286.35,154.60) rotate(-90)" font-size="6.0" text-anchor="middle">3</text>
<rect x="295.60" y="187.93" width="6.60" height="14.97" fill="#c8102e"/>
<line x1="298.90" y1="183.26" x2="298.90" y2="188.43" stroke="#231f20" stroke-width="0.9"/>
<line x1="296.50" y1="183.26" x2="301.30" y2="183.26" stroke="#231f20" stroke-width="1.0"/>
<line x1="298.90" y1="202.90" x2="298.90" y2="205.10" stroke="#231f20" stroke-width="0.9"/>
<rect x="306.90" y="183.74" width="6.60" height="19.16" fill="#3dae49"/>
<line x1="310.20" y1="180.04" x2="310.20" y2="184.24" stroke="#231f20" stroke-width="0.9"/>
<line x1="307.80" y1="180.04" x2="312.60" y2="180.04" stroke="#231f20" stroke-width="1.0"/>
<line x1="310.20" y1="202.90" x2="310.20" y2="205.10" stroke="#231f20" stroke-width="0.9"/>
<rect x="318.30" y="184.38" width="6.60" height="18.52" fill="#5a1f6e"/>
<line x1="321.60" y1="179.23" x2="321.60" y2="184.88" stroke="#231f20" stroke-width="0.9"/>
<line x1="319.20" y1="179.23" x2="324.00" y2="179.23" stroke="#231f20" stroke-width="1.0"/>
<line x1="321.60" y1="202.90" x2="321.60" y2="205.10" stroke="#231f20" stroke-width="0.9"/>
<rect x="329.40" y="182.45" width="6.60" height="20.45" fill="#f39200"/>
<line x1="332.70" y1="178.43" x2="332.70" y2="182.95" stroke="#231f20" stroke-width="0.9"/>
<line x1="330.30" y1="178.43" x2="335.10" y2="178.43" stroke="#231f20" stroke-width="1.0"/>
<line x1="332.70" y1="202.90" x2="332.70" y2="205.10" stroke="#231f20" stroke-width="0.9"/>
<line x1="298.90" y1="175.10" x2="332.70" y2="175.10" stroke="#3a3a3a" stroke-width="1.0"/>
<text x="315.80" y="173.30" font-size="5.4" text-anchor="middle">ns</text>
<text transform="translate(277.11,177.75) rotate(-90) scale(0.75,1)" font-size="7.0" stroke="#231f20" stroke-width="0.3" text-anchor="middle">Expression levels of <tspan font-style="italic">xCT</tspan></text>
<text x="272.30" y="213.68" font-size="5.8">BTZ(nM)</text>
<text x="298.90" y="213.75" font-size="6.0" text-anchor="middle">0</text>
<text x="310.20" y="213.75" font-size="6.0" text-anchor="middle">2</text>
<text x="321.60" y="213.75" font-size="6.0" text-anchor="middle">4</text>
<text x="332.70" y="213.75" font-size="6.0" text-anchor="middle">6</text>
<line x1="462.30" y1="152.50" x2="462.30" y2="203.60" stroke="#231f20" stroke-width="1.0"/>
<line x1="461.80" y1="203.10" x2="508.50" y2="203.10" stroke="#231f20" stroke-width="1.0"/>
<line x1="460.10" y1="203.10" x2="462.30" y2="203.10" stroke="#231f20" stroke-width="0.9"/>
<text transform="translate(457.25,203.10) rotate(-90)" font-size="6.0" text-anchor="middle">0</text>
<line x1="460.10" y1="186.80" x2="462.30" y2="186.80" stroke="#231f20" stroke-width="0.9"/>
<text transform="translate(457.25,186.80) rotate(-90)" font-size="6.0" text-anchor="middle">1</text>
<line x1="460.10" y1="170.50" x2="462.30" y2="170.50" stroke="#231f20" stroke-width="0.9"/>
<text transform="translate(457.25,170.50) rotate(-90)" font-size="6.0" text-anchor="middle">2</text>
<line x1="460.10" y1="154.20" x2="462.30" y2="154.20" stroke="#231f20" stroke-width="0.9"/>
<text transform="translate(457.25,154.20) rotate(-90)" font-size="6.0" text-anchor="middle">3</text>
<rect x="466.75" y="186.80" width="6.50" height="16.30" fill="#c8102e"/>
<line x1="470.00" y1="185.50" x2="470.00" y2="187.30" stroke="#231f20" stroke-width="0.9"/>
<line x1="467.60" y1="185.50" x2="472.40" y2="185.50" stroke="#231f20" stroke-width="1.0"/>
<line x1="470.00" y1="203.10" x2="470.00" y2="205.30" stroke="#231f20" stroke-width="0.9"/>
<rect x="477.95" y="183.54" width="6.50" height="19.56" fill="#3dae49"/>
<line x1="481.20" y1="181.09" x2="481.20" y2="184.04" stroke="#231f20" stroke-width="0.9"/>
<line x1="478.80" y1="181.09" x2="483.60" y2="181.09" stroke="#231f20" stroke-width="1.0"/>
<line x1="481.20" y1="203.10" x2="481.20" y2="205.30" stroke="#231f20" stroke-width="0.9"/>
<rect x="489.15" y="177.83" width="6.50" height="25.27" fill="#5a1f6e"/>
<line x1="492.40" y1="173.76" x2="492.40" y2="178.33" stroke="#231f20" stroke-width="0.9"/>
<line x1="490.00" y1="173.76" x2="494.80" y2="173.76" stroke="#231f20" stroke-width="1.0"/>
<line x1="492.40" y1="203.10" x2="492.40" y2="205.30" stroke="#231f20" stroke-width="0.9"/>
<rect x="500.15" y="170.50" width="6.50" height="32.60" fill="#f39200"/>
<line x1="503.40" y1="168.87" x2="503.40" y2="171.00" stroke="#231f20" stroke-width="0.9"/>
<line x1="501.00" y1="168.87" x2="505.80" y2="168.87" stroke="#231f20" stroke-width="1.0"/>
<line x1="503.40" y1="203.10" x2="503.40" y2="205.30" stroke="#231f20" stroke-width="0.9"/>
<line x1="470.00" y1="179.40" x2="481.20" y2="179.40" stroke="#3a3a3a" stroke-width="1.0"/>
<text x="475.60" y="177.60" font-size="5.4" text-anchor="middle">ns</text>
<line x1="470.00" y1="170.80" x2="492.40" y2="170.80" stroke="#3a3a3a" stroke-width="1.0"/>
<text x="481.20" y="171.54" font-size="6.4" text-anchor="middle" letter-spacing="-0.35">**</text>
<line x1="470.00" y1="164.00" x2="503.40" y2="164.00" stroke="#3a3a3a" stroke-width="1.0"/>
<text x="486.70" y="164.74" font-size="6.4" text-anchor="middle" letter-spacing="-0.35">***</text>
<text transform="translate(447.86,177.75) rotate(-90) scale(0.75,1)" font-size="7.0" stroke="#231f20" stroke-width="0.3" text-anchor="middle">Expression levels of <tspan font-style="italic">xCT</tspan></text>
<text x="440.80" y="213.88" font-size="5.8">BTZ(nM)</text>
<text x="470.00" y="213.95" font-size="6.0" text-anchor="middle">0</text>
<text x="481.20" y="213.95" font-size="6.0" text-anchor="middle">2</text>
<text x="492.40" y="213.95" font-size="6.0" text-anchor="middle">4</text>
<text x="503.40" y="213.95" font-size="6.0" text-anchor="middle">6</text>
<text x="90.40" y="267.39" font-size="7.8" class="t" text-anchor="middle">NCI-H929</text>
<line x1="55.00" y1="272.80" x2="55.00" y2="338.10" stroke="#231f20" stroke-width="1.2"/>
<line x1="54.40" y1="337.60" x2="121.60" y2="337.60" stroke="#231f20" stroke-width="1.2"/>
<line x1="52.00" y1="337.60" x2="55.00" y2="337.60" stroke="#231f20" stroke-width="1.0"/>
<text x="49.00" y="339.78" font-size="6.1" text-anchor="end">0</text>
<line x1="52.00" y1="316.67" x2="55.00" y2="316.67" stroke="#231f20" stroke-width="1.0"/>
<text x="49.00" y="318.85" font-size="6.1" text-anchor="end">50</text>
<line x1="52.00" y1="295.73" x2="55.00" y2="295.73" stroke="#231f20" stroke-width="1.0"/>
<text x="49.00" y="297.91" font-size="6.1" text-anchor="end">100</text>
<line x1="52.00" y1="274.80" x2="55.00" y2="274.80" stroke="#231f20" stroke-width="1.0"/>
<text x="49.00" y="276.98" font-size="6.1" text-anchor="end">150</text>
<rect x="61.10" y="294.89" width="10.00" height="42.71" fill="#c8102e"/>
<line x1="66.10" y1="289.03" x2="66.10" y2="294.89" stroke="#231f20" stroke-width="0.9"/>
<line x1="63.50" y1="289.03" x2="68.70" y2="289.03" stroke="#231f20" stroke-width="1.0"/>
<line x1="66.10" y1="337.60" x2="66.10" y2="339.80" stroke="#231f20" stroke-width="0.9"/>
<circle cx="66.10" cy="295.73" r="1.20" fill="#111"/>
<circle cx="68.10" cy="294.06" r="1.20" fill="#111"/>
<circle cx="66.10" cy="290.29" r="1.20" fill="#111"/>
<rect x="77.60" y="292.38" width="10.00" height="45.22" fill="#3dae49"/>
<line x1="82.60" y1="286.10" x2="82.60" y2="292.38" stroke="#231f20" stroke-width="0.9"/>
<line x1="80.00" y1="286.10" x2="85.20" y2="286.10" stroke="#231f20" stroke-width="1.0"/>
<line x1="82.60" y1="337.60" x2="82.60" y2="339.80" stroke="#231f20" stroke-width="0.9"/>
<rect x="78.90" y="293.27" width="2.40" height="2.40" fill="#111"/>
<rect x="83.90" y="293.27" width="2.40" height="2.40" fill="#111"/>
<rect x="81.40" y="286.16" width="2.40" height="2.40" fill="#111"/>
<rect x="94.30" y="294.89" width="10.00" height="42.71" fill="#5a1f6e"/>
<line x1="99.30" y1="292.80" x2="99.30" y2="294.89" stroke="#231f20" stroke-width="0.9"/>
<line x1="96.70" y1="292.80" x2="101.90" y2="292.80" stroke="#231f20" stroke-width="1.0"/>
<line x1="99.30" y1="337.60" x2="99.30" y2="339.80" stroke="#231f20" stroke-width="0.9"/>
<polygon points="97.80,294.29 96.42,296.81 99.18,296.81" fill="#111"/>
<polygon points="100.80,292.62 99.42,295.14 102.18,295.14" fill="#111"/>
<polygon points="99.30,291.78 97.92,294.30 100.68,294.30" fill="#111"/>
<rect x="111.10" y="308.29" width="10.00" height="29.31" fill="#f39200"/>
<line x1="116.10" y1="305.36" x2="116.10" y2="308.29" stroke="#231f20" stroke-width="0.9"/>
<line x1="113.50" y1="305.36" x2="118.70" y2="305.36" stroke="#231f20" stroke-width="1.0"/>
<line x1="116.10" y1="337.60" x2="116.10" y2="339.80" stroke="#231f20" stroke-width="0.9"/>
<polygon points="114.60,307.64 113.22,305.12 115.98,305.12" fill="#111"/>
<polygon points="117.60,307.64 116.22,305.12 118.98,305.12" fill="#111"/>
<polygon points="116.10,311.41 114.72,308.89 117.48,308.89" fill="#111"/>
<line x1="82.60" y1="278.20" x2="116.10" y2="278.20" stroke="#3a3a3a" stroke-width="0.9"/>
<line x1="82.60" y1="278.20" x2="82.60" y2="281.00" stroke="#3a3a3a" stroke-width="0.9"/>
<line x1="116.10" y1="278.20" x2="116.10" y2="281.00" stroke="#3a3a3a" stroke-width="0.9"/>
<text x="99.35" y="278.94" font-size="6.4" text-anchor="middle" letter-spacing="-0.35">**</text>
<line x1="99.30" y1="288.10" x2="116.10" y2="288.10" stroke="#3a3a3a" stroke-width="0.9"/>
<line x1="99.30" y1="288.10" x2="99.30" y2="290.90" stroke="#3a3a3a" stroke-width="0.9"/>
<line x1="116.10" y1="288.10" x2="116.10" y2="290.90" stroke="#3a3a3a" stroke-width="0.9"/>
<text x="107.70" y="288.84" font-size="6.4" text-anchor="middle" letter-spacing="-0.35">*</text>
<text transform="translate(23.65,304.80) rotate(-90) scale(0.69,1)" font-size="7.4" font-weight="bold" text-anchor="middle">Intracellular GSH</text>
<text transform="translate(33.37,304.80) rotate(-90) scale(0.70,1)" font-size="7.4" font-weight="bold" text-anchor="middle">(% of DMSO)</text>
<circle cx="133.40" cy="290.60" r="1.25" fill="#111"/>
<text x="137.30" y="292.82" font-size="6.2">DMSO</text>
<rect x="132.15" y="299.05" width="2.50" height="2.50" fill="#111"/>
<text x="137.30" y="302.52" font-size="6.2">BTZ</text>
<polygon points="133.40,308.40 131.96,311.02 134.84,311.02" fill="#111"/>
<text x="137.30" y="312.12" font-size="6.2">RSL3</text>
<polygon points="133.40,320.60 131.96,317.98 134.84,317.98" fill="#111"/>
<text x="137.30" y="321.32" font-size="6.2">BTZ+RSL3</text>
<text x="256.90" y="267.39" font-size="7.8" class="t" text-anchor="middle">OPM-2</text>
<line x1="220.60" y1="272.20" x2="220.60" y2="338.50" stroke="#231f20" stroke-width="1.2"/>
<line x1="220.00" y1="338.00" x2="292.70" y2="338.00" stroke="#231f20" stroke-width="1.2"/>
<line x1="217.60" y1="338.00" x2="220.60" y2="338.00" stroke="#231f20" stroke-width="1.0"/>
<text x="214.90" y="340.18" font-size="6.1" text-anchor="end">0</text>
<line x1="217.60" y1="316.74" x2="220.60" y2="316.74" stroke="#231f20" stroke-width="1.0"/>
<text x="214.90" y="318.92" font-size="6.1" text-anchor="end">50</text>
<line x1="217.60" y1="295.47" x2="220.60" y2="295.47" stroke="#231f20" stroke-width="1.0"/>
<text x="214.90" y="297.65" font-size="6.1" text-anchor="end">100</text>
<line x1="217.60" y1="274.20" x2="220.60" y2="274.20" stroke="#231f20" stroke-width="1.0"/>
<text x="214.90" y="276.39" font-size="6.1" text-anchor="end">150</text>
<rect x="227.10" y="293.77" width="10.00" height="44.23" fill="#c8102e"/>
<line x1="232.10" y1="291.64" x2="232.10" y2="293.77" stroke="#231f20" stroke-width="0.9"/>
<line x1="229.50" y1="291.64" x2="234.70" y2="291.64" stroke="#231f20" stroke-width="1.0"/>
<line x1="232.10" y1="338.00" x2="232.10" y2="340.20" stroke="#231f20" stroke-width="0.9"/>
<circle cx="230.60" cy="294.62" r="1.20" fill="#111"/>
<circle cx="233.60" cy="292.92" r="1.20" fill="#111"/>
<circle cx="232.10" cy="294.19" r="1.20" fill="#111"/>
<rect x="243.60" y="293.77" width="10.00" height="44.23" fill="#3dae49"/>
<line x1="248.60" y1="290.79" x2="248.60" y2="293.77" stroke="#231f20" stroke-width="0.9"/>
<line x1="246.00" y1="290.79" x2="251.20" y2="290.79" stroke="#231f20" stroke-width="1.0"/>
<line x1="248.60" y1="338.00" x2="248.60" y2="340.20" stroke="#231f20" stroke-width="0.9"/>
<rect x="247.40" y="295.97" width="2.40" height="2.40" fill="#111"/>
<rect x="249.40" y="290.87" width="2.40" height="2.40" fill="#111"/>
<rect x="247.40" y="290.02" width="2.40" height="2.40" fill="#111"/>
<rect x="259.80" y="293.77" width="10.00" height="44.23" fill="#5a1f6e"/>
<line x1="264.80" y1="288.67" x2="264.80" y2="293.77" stroke="#231f20" stroke-width="0.9"/>
<line x1="262.20" y1="288.67" x2="267.40" y2="288.67" stroke="#231f20" stroke-width="1.0"/>
<line x1="264.80" y1="338.00" x2="264.80" y2="340.20" stroke="#231f20" stroke-width="0.9"/>
<polygon points="263.80,294.03 262.42,296.55 265.18,296.55" fill="#111"/>
<polygon points="266.30,290.63 264.92,293.15 267.68,293.15" fill="#111"/>
<polygon points="264.80,288.50 263.42,291.02 266.18,291.02" fill="#111"/>
<rect x="276.70" y="307.80" width="10.00" height="30.20" fill="#f39200"/>
<line x1="281.70" y1="304.40" x2="281.70" y2="307.80" stroke="#231f20" stroke-width="0.9"/>
<line x1="279.10" y1="304.40" x2="284.30" y2="304.40" stroke="#231f20" stroke-width="1.0"/>
<line x1="281.70" y1="338.00" x2="281.70" y2="340.20" stroke="#231f20" stroke-width="0.9"/>
<polygon points="280.20,307.12 278.82,304.60 281.58,304.60" fill="#111"/>
<polygon points="283.20,307.12 281.82,304.60 284.58,304.60" fill="#111"/>
<polygon points="281.70,309.67 280.32,307.15 283.08,307.15" fill="#111"/>
<line x1="248.60" y1="277.50" x2="282.70" y2="277.50" stroke="#3a3a3a" stroke-width="0.9"/>
<line x1="248.60" y1="277.50" x2="248.60" y2="280.30" stroke="#3a3a3a" stroke-width="0.9"/>
<line x1="282.70" y1="277.50" x2="282.70" y2="280.30" stroke="#3a3a3a" stroke-width="0.9"/>
<text x="265.65" y="278.24" font-size="6.4" text-anchor="middle" letter-spacing="-0.35">**</text>
<line x1="265.40" y1="285.50" x2="282.70" y2="285.50" stroke="#3a3a3a" stroke-width="0.9"/>
<line x1="265.40" y1="285.50" x2="265.40" y2="288.30" stroke="#3a3a3a" stroke-width="0.9"/>
<line x1="282.70" y1="285.50" x2="282.70" y2="288.30" stroke="#3a3a3a" stroke-width="0.9"/>
<text x="274.05" y="286.24" font-size="6.4" text-anchor="middle" letter-spacing="-0.35">**</text>
<text transform="translate(189.65,304.80) rotate(-90) scale(0.69,1)" font-size="7.4" font-weight="bold" text-anchor="middle">Intracellular GSH</text>
<text transform="translate(199.32,304.80) rotate(-90) scale(0.70,1)" font-size="7.4" font-weight="bold" text-anchor="middle">(% of DMSO)</text>
<circle cx="300.60" cy="290.60" r="1.25" fill="#111"/>
<text x="304.50" y="292.82" font-size="6.2">DMSO</text>
<rect x="299.35" y="299.05" width="2.50" height="2.50" fill="#111"/>
<text x="304.50" y="302.52" font-size="6.2">BTZ</text>
<polygon points="300.60,308.40 299.16,311.02 302.04,311.02" fill="#111"/>
<text x="304.50" y="312.12" font-size="6.2">RSL3</text>
<polygon points="300.60,320.60 299.16,317.98 302.04,317.98" fill="#111"/>
<text x="304.50" y="321.32" font-size="6.2">BTZ+RSL3</text>
<text x="423.10" y="267.39" font-size="7.8" class="t" text-anchor="middle">U-266</text>
<line x1="386.60" y1="272.20" x2="386.60" y2="338.50" stroke="#231f20" stroke-width="1.2"/>
<line x1="386.00" y1="338.00" x2="458.50" y2="338.00" stroke="#231f20" stroke-width="1.2"/>
<line x1="383.60" y1="338.00" x2="386.60" y2="338.00" stroke="#231f20" stroke-width="1.0"/>
<text x="380.90" y="340.18" font-size="6.1" text-anchor="end">0</text>
<line x1="383.60" y1="316.74" x2="386.60" y2="316.74" stroke="#231f20" stroke-width="1.0"/>
<text x="380.90" y="318.92" font-size="6.1" text-anchor="end">50</text>
<line x1="383.60" y1="295.47" x2="386.60" y2="295.47" stroke="#231f20" stroke-width="1.0"/>
<text x="380.90" y="297.65" font-size="6.1" text-anchor="end">100</text>
<line x1="383.60" y1="274.20" x2="386.60" y2="274.20" stroke="#231f20" stroke-width="1.0"/>
<text x="380.90" y="276.39" font-size="6.1" text-anchor="end">150</text>
<rect x="392.90" y="295.47" width="10.00" height="42.53" fill="#c8102e"/>
<line x1="397.90" y1="291.64" x2="397.90" y2="295.47" stroke="#231f20" stroke-width="0.9"/>
<line x1="395.30" y1="291.64" x2="400.50" y2="291.64" stroke="#231f20" stroke-width="1.0"/>
<line x1="397.90" y1="338.00" x2="397.90" y2="340.20" stroke="#231f20" stroke-width="0.9"/>
<circle cx="396.40" cy="296.32" r="1.20" fill="#111"/>
<circle cx="399.40" cy="294.62" r="1.20" fill="#111"/>
<circle cx="397.90" cy="293.34" r="1.20" fill="#111"/>
<rect x="409.20" y="295.04" width="10.00" height="42.96" fill="#3dae49"/>
<line x1="414.20" y1="286.96" x2="414.20" y2="295.04" stroke="#231f20" stroke-width="0.9"/>
<line x1="411.60" y1="286.96" x2="416.80" y2="286.96" stroke="#231f20" stroke-width="1.0"/>
<line x1="414.20" y1="338.00" x2="414.20" y2="340.20" stroke="#231f20" stroke-width="0.9"/>
<rect x="413.00" y="298.52" width="2.40" height="2.40" fill="#111"/>
<rect x="413.00" y="292.57" width="2.40" height="2.40" fill="#111"/>
<rect x="413.00" y="289.17" width="2.40" height="2.40" fill="#111"/>
<rect x="425.90" y="296.32" width="10.00" height="41.68" fill="#5a1f6e"/>
<line x1="430.90" y1="293.34" x2="430.90" y2="296.32" stroke="#231f20" stroke-width="0.9"/>
<line x1="428.30" y1="293.34" x2="433.50" y2="293.34" stroke="#231f20" stroke-width="1.0"/>
<line x1="430.90" y1="338.00" x2="430.90" y2="340.20" stroke="#231f20" stroke-width="0.9"/>
<polygon points="429.40,294.03 428.02,296.55 430.78,296.55" fill="#111"/>
<polygon points="432.40,293.18 431.02,295.70 433.78,295.70" fill="#111"/>
<polygon points="430.90,292.75 429.52,295.27 432.28,295.27" fill="#111"/>
<rect x="442.70" y="294.19" width="10.00" height="43.81" fill="#f39200"/>
<line x1="447.70" y1="292.49" x2="447.70" y2="294.19" stroke="#231f20" stroke-width="0.9"/>
<line x1="445.10" y1="292.49" x2="450.30" y2="292.49" stroke="#231f20" stroke-width="1.0"/>
<line x1="447.70" y1="338.00" x2="447.70" y2="340.20" stroke="#231f20" stroke-width="0.9"/>
<polygon points="446.20,294.78 444.82,292.26 447.58,292.26" fill="#111"/>
<polygon points="449.20,294.78 447.82,292.26 450.58,292.26" fill="#111"/>
<polygon points="447.70,296.91 446.32,294.39 449.08,294.39" fill="#111"/>
<line x1="397.70" y1="284.20" x2="448.80" y2="284.20" stroke="#3a3a3a" stroke-width="0.9"/>
<text x="423.25" y="282.60" font-size="5.4" text-anchor="middle">ns</text>
<text transform="translate(355.65,304.80) rotate(-90) scale(0.69,1)" font-size="7.4" font-weight="bold" text-anchor="middle">Intracellular GSH</text>
<text transform="translate(365.32,304.80) rotate(-90) scale(0.70,1)" font-size="7.4" font-weight="bold" text-anchor="middle">(% of DMSO)</text>
<circle cx="466.40" cy="290.60" r="1.25" fill="#111"/>
<text x="470.30" y="292.82" font-size="6.2">DMSO</text>
<rect x="465.15" y="299.05" width="2.50" height="2.50" fill="#111"/>
<text x="470.30" y="302.52" font-size="6.2">BTZ</text>
<polygon points="466.40,308.40 464.96,311.02 467.84,311.02" fill="#111"/>
<text x="470.30" y="312.12" font-size="6.2">RSL3</text>
<polygon points="466.40,320.60 464.96,317.98 467.84,317.98" fill="#111"/>
<text x="470.30" y="321.32" font-size="6.2">BTZ+RSL3</text>
<text x="107.80" y="376.05" font-size="6.0" text-anchor="middle">NCI-H929</text>
<line x1="53.90" y1="380.00" x2="53.90" y2="457.50" stroke="#231f20" stroke-width="1.2"/>
<line x1="53.30" y1="457.00" x2="164.00" y2="457.00" stroke="#231f20" stroke-width="1.2"/>
<line x1="50.70" y1="457.00" x2="53.90" y2="457.00" stroke="#231f20" stroke-width="1.0"/>
<text x="47.60" y="459.04" font-size="5.7" text-anchor="end">0</text>
<line x1="50.70" y1="432.00" x2="53.90" y2="432.00" stroke="#231f20" stroke-width="1.0"/>
<text x="47.60" y="434.04" font-size="5.7" text-anchor="end">50</text>
<line x1="50.70" y1="407.00" x2="53.90" y2="407.00" stroke="#231f20" stroke-width="1.0"/>
<text x="47.60" y="409.04" font-size="5.7" text-anchor="end">100</text>
<line x1="50.70" y1="382.00" x2="53.90" y2="382.00" stroke="#231f20" stroke-width="1.0"/>
<text x="47.60" y="384.04" font-size="5.7" text-anchor="end">150</text>
<rect x="57.35" y="406.75" width="7.70" height="50.25" fill="#c8102e"/>
<line x1="61.20" y1="403.00" x2="61.20" y2="406.75" stroke="#231f20" stroke-width="0.9"/>
<line x1="58.40" y1="403.00" x2="64.00" y2="403.00" stroke="#231f20" stroke-width="1.0"/>
<line x1="61.20" y1="457.00" x2="61.20" y2="459.20" stroke="#231f20" stroke-width="0.9"/>
<rect x="70.45" y="416.00" width="7.70" height="41.00" fill="#3dae49"/>
<line x1="74.30" y1="412.50" x2="74.30" y2="416.00" stroke="#231f20" stroke-width="0.9"/>
<line x1="71.50" y1="412.50" x2="77.10" y2="412.50" stroke="#231f20" stroke-width="1.0"/>
<line x1="74.30" y1="457.00" x2="74.30" y2="459.20" stroke="#231f20" stroke-width="0.9"/>
<rect x="83.95" y="416.00" width="7.70" height="41.00" fill="#5a1f6e"/>
<line x1="87.80" y1="412.50" x2="87.80" y2="416.00" stroke="#231f20" stroke-width="0.9"/>
<line x1="85.00" y1="412.50" x2="90.60" y2="412.50" stroke="#231f20" stroke-width="1.0"/>
<line x1="87.80" y1="457.00" x2="87.80" y2="459.20" stroke="#231f20" stroke-width="0.9"/>
<rect x="97.25" y="434.00" width="7.70" height="23.00" fill="#f39200"/>
<line x1="101.10" y1="430.00" x2="101.10" y2="434.00" stroke="#231f20" stroke-width="0.9"/>
<line x1="98.30" y1="430.00" x2="103.90" y2="430.00" stroke="#231f20" stroke-width="1.0"/>
<line x1="101.10" y1="457.00" x2="101.10" y2="459.20" stroke="#231f20" stroke-width="0.9"/>
<rect x="110.65" y="413.00" width="7.70" height="44.00" fill="#0c5e3e"/>
<line x1="114.50" y1="408.50" x2="114.50" y2="413.00" stroke="#231f20" stroke-width="0.9"/>
<line x1="111.70" y1="408.50" x2="117.30" y2="408.50" stroke="#231f20" stroke-width="1.0"/>
<line x1="114.50" y1="457.00" x2="114.50" y2="459.20" stroke="#231f20" stroke-width="0.9"/>
<rect x="123.85" y="415.00" width="7.70" height="42.00" fill="#c8c6ca"/>
<line x1="127.70" y1="412.50" x2="127.70" y2="415.00" stroke="#231f20" stroke-width="0.9"/>
<line x1="124.90" y1="412.50" x2="130.50" y2="412.50" stroke="#231f20" stroke-width="1.0"/>
<line x1="127.70" y1="457.00" x2="127.70" y2="459.20" stroke="#231f20" stroke-width="0.9"/>
<rect x="137.15" y="415.50" width="7.70" height="41.50" fill="#a9bb86"/>
<line x1="141.00" y1="413.50" x2="141.00" y2="415.50" stroke="#231f20" stroke-width="0.9"/>
<line x1="138.20" y1="413.50" x2="143.80" y2="413.50" stroke="#231f20" stroke-width="1.0"/>
<line x1="141.00" y1="457.00" x2="141.00" y2="459.20" stroke="#231f20" stroke-width="0.9"/>
<rect x="150.65" y="407.00" width="7.70" height="50.00" fill="#8c86c3"/>
<line x1="154.50" y1="400.00" x2="154.50" y2="407.00" stroke="#231f20" stroke-width="0.9"/>
<line x1="151.70" y1="400.00" x2="157.30" y2="400.00" stroke="#231f20" stroke-width="1.0"/>
<line x1="154.50" y1="457.00" x2="154.50" y2="459.20" stroke="#231f20" stroke-width="0.9"/>
<line x1="74.30" y1="396.30" x2="101.10" y2="396.30" stroke="#3a3a3a" stroke-width="0.9"/>
<line x1="74.30" y1="395.85" x2="74.30" y2="400.20" stroke="#3a3a3a" stroke-width="0.9"/>
<line x1="101.10" y1="395.85" x2="101.10" y2="400.20" stroke="#3a3a3a" stroke-width="0.9"/>
<text x="87.70" y="397.24" font-size="6.4" text-anchor="middle" letter-spacing="-0.35">***</text>
<line x1="87.80" y1="406.30" x2="101.10" y2="406.30" stroke="#3a3a3a" stroke-width="0.9"/>
<line x1="87.80" y1="405.85" x2="87.80" y2="410.20" stroke="#3a3a3a" stroke-width="0.9"/>
<line x1="101.10" y1="405.85" x2="101.10" y2="410.20" stroke="#3a3a3a" stroke-width="0.9"/>
<text x="94.45" y="407.24" font-size="6.4" text-anchor="middle" letter-spacing="-0.35">***</text>
<line x1="101.10" y1="387.40" x2="141.00" y2="387.40" stroke="#3a3a3a" stroke-width="0.9"/>
<line x1="101.10" y1="386.95" x2="101.10" y2="391.30" stroke="#3a3a3a" stroke-width="0.9"/>
<line x1="141.00" y1="386.95" x2="141.00" y2="391.30" stroke="#3a3a3a" stroke-width="0.9"/>
<text x="121.05" y="388.34" font-size="6.4" text-anchor="middle" letter-spacing="-0.35">***</text>
<text transform="translate(33.80,418.20) rotate(-90) scale(0.76,1)" font-size="7.0" stroke="#231f20" stroke-width="0.12" text-anchor="middle">Relative cell viability(%)</text>
<rect x="166.80" y="401.30" width="5.40" height="5.40" fill="#c8102e"/>
<text x="175.40" y="406.18" font-size="6.1">DMSO</text>
<rect x="209.80" y="401.30" width="5.40" height="5.40" fill="#0c5e3e"/>
<text x="218.40" y="406.18" font-size="6.1">BTZ+NAC</text>
<rect x="166.80" y="410.90" width="5.40" height="5.40" fill="#3dae49"/>
<text x="175.40" y="415.78" font-size="6.1">BTZ</text>
<rect x="209.80" y="410.90" width="5.40" height="5.40" fill="#c8c6ca"/>
<text x="218.40" y="415.78" font-size="6.1">RSL3+NAC</text>
<rect x="166.80" y="420.40" width="5.40" height="5.40" fill="#5a1f6e"/>
<text x="175.40" y="425.28" font-size="6.1">RSL3</text>
<rect x="209.80" y="420.40" width="5.40" height="5.40" fill="#a9bb86"/>
<text x="218.40" y="425.28" font-size="6.1">BTZ+RSL3+NAC</text>
<rect x="166.80" y="429.70" width="5.40" height="5.40" fill="#f39200"/>
<text x="175.40" y="434.58" font-size="6.1">BTZ+RSL3</text>
<rect x="209.80" y="429.70" width="5.40" height="5.40" fill="#8c86c3"/>
<text x="218.40" y="434.58" font-size="6.1">NAC</text>
<text x="356.20" y="375.65" font-size="6.0" text-anchor="middle">OPM-2</text>
<line x1="302.70" y1="380.40" x2="302.70" y2="457.50" stroke="#231f20" stroke-width="1.2"/>
<line x1="302.10" y1="457.00" x2="412.00" y2="457.00" stroke="#231f20" stroke-width="1.2"/>
<line x1="299.50" y1="457.00" x2="302.70" y2="457.00" stroke="#231f20" stroke-width="1.0"/>
<text x="296.50" y="459.04" font-size="5.7" text-anchor="end">0</text>
<line x1="299.50" y1="432.13" x2="302.70" y2="432.13" stroke="#231f20" stroke-width="1.0"/>
<text x="296.50" y="434.18" font-size="5.7" text-anchor="end">50</text>
<line x1="299.50" y1="407.27" x2="302.70" y2="407.27" stroke="#231f20" stroke-width="1.0"/>
<text x="296.50" y="409.31" font-size="5.7" text-anchor="end">100</text>
<line x1="299.50" y1="382.40" x2="302.70" y2="382.40" stroke="#231f20" stroke-width="1.0"/>
<text x="296.50" y="384.45" font-size="5.7" text-anchor="end">150</text>
<rect x="305.55" y="408.26" width="7.70" height="48.74" fill="#c8102e"/>
<line x1="309.40" y1="406.28" x2="309.40" y2="408.26" stroke="#231f20" stroke-width="0.9"/>
<line x1="306.60" y1="406.28" x2="312.20" y2="406.28" stroke="#231f20" stroke-width="1.0"/>
<line x1="309.40" y1="457.00" x2="309.40" y2="459.20" stroke="#231f20" stroke-width="0.9"/>
<rect x="319.35" y="416.72" width="7.70" height="40.28" fill="#3dae49"/>
<line x1="323.20" y1="412.74" x2="323.20" y2="416.72" stroke="#231f20" stroke-width="0.9"/>
<line x1="320.40" y1="412.74" x2="326.00" y2="412.74" stroke="#231f20" stroke-width="1.0"/>
<line x1="323.20" y1="457.00" x2="323.20" y2="459.20" stroke="#231f20" stroke-width="0.9"/>
<rect x="332.55" y="416.72" width="7.70" height="40.28" fill="#5a1f6e"/>
<line x1="336.40" y1="413.73" x2="336.40" y2="416.72" stroke="#231f20" stroke-width="0.9"/>
<line x1="333.60" y1="413.73" x2="339.20" y2="413.73" stroke="#231f20" stroke-width="1.0"/>
<line x1="336.40" y1="457.00" x2="336.40" y2="459.20" stroke="#231f20" stroke-width="0.9"/>
<rect x="346.05" y="432.63" width="7.70" height="24.37" fill="#f39200"/>
<line x1="349.90" y1="429.15" x2="349.90" y2="432.63" stroke="#231f20" stroke-width="0.9"/>
<line x1="347.10" y1="429.15" x2="352.70" y2="429.15" stroke="#231f20" stroke-width="1.0"/>
<line x1="349.90" y1="457.00" x2="349.90" y2="459.20" stroke="#231f20" stroke-width="0.9"/>
<rect x="359.45" y="411.25" width="7.70" height="45.75" fill="#0c5e3e"/>
<line x1="363.30" y1="408.76" x2="363.30" y2="411.25" stroke="#231f20" stroke-width="0.9"/>
<line x1="360.50" y1="408.76" x2="366.10" y2="408.76" stroke="#231f20" stroke-width="1.0"/>
<line x1="363.30" y1="457.00" x2="363.30" y2="459.20" stroke="#231f20" stroke-width="0.9"/>
<rect x="372.65" y="412.24" width="7.70" height="44.76" fill="#c8c6ca"/>
<line x1="376.50" y1="409.76" x2="376.50" y2="412.24" stroke="#231f20" stroke-width="0.9"/>
<line x1="373.70" y1="409.76" x2="379.30" y2="409.76" stroke="#231f20" stroke-width="1.0"/>
<line x1="376.50" y1="457.00" x2="376.50" y2="459.20" stroke="#231f20" stroke-width="0.9"/>
<rect x="385.85" y="416.22" width="7.70" height="40.78" fill="#a9bb86"/>
<line x1="389.70" y1="411.25" x2="389.70" y2="416.22" stroke="#231f20" stroke-width="0.9"/>
<line x1="386.90" y1="411.25" x2="392.50" y2="411.25" stroke="#231f20" stroke-width="1.0"/>
<line x1="389.70" y1="457.00" x2="389.70" y2="459.20" stroke="#231f20" stroke-width="0.9"/>
<rect x="399.45" y="410.25" width="7.70" height="46.75" fill="#8c86c3"/>
<line x1="403.30" y1="406.77" x2="403.30" y2="410.25" stroke="#231f20" stroke-width="0.9"/>
<line x1="400.50" y1="406.77" x2="406.10" y2="406.77" stroke="#231f20" stroke-width="1.0"/>
<line x1="403.30" y1="457.00" x2="403.30" y2="459.20" stroke="#231f20" stroke-width="0.9"/>
<line x1="323.20" y1="396.50" x2="349.90" y2="396.50" stroke="#3a3a3a" stroke-width="0.9"/>
<line x1="323.20" y1="396.05" x2="323.20" y2="400.40" stroke="#3a3a3a" stroke-width="0.9"/>
<line x1="349.90" y1="396.05" x2="349.90" y2="400.40" stroke="#3a3a3a" stroke-width="0.9"/>
<text x="336.55" y="397.44" font-size="6.4" text-anchor="middle" letter-spacing="-0.35">***</text>
<line x1="336.40" y1="407.30" x2="349.90" y2="407.30" stroke="#3a3a3a" stroke-width="0.9"/>
<line x1="336.40" y1="406.85" x2="336.40" y2="411.20" stroke="#3a3a3a" stroke-width="0.9"/>
<line x1="349.90" y1="406.85" x2="349.90" y2="411.20" stroke="#3a3a3a" stroke-width="0.9"/>
<text x="343.15" y="408.24" font-size="6.4" text-anchor="middle" letter-spacing="-0.35">***</text>
<line x1="349.90" y1="388.80" x2="389.70" y2="388.80" stroke="#3a3a3a" stroke-width="0.9"/>
<line x1="349.90" y1="388.35" x2="349.90" y2="392.70" stroke="#3a3a3a" stroke-width="0.9"/>
<line x1="389.70" y1="388.35" x2="389.70" y2="392.70" stroke="#3a3a3a" stroke-width="0.9"/>
<text x="369.80" y="389.74" font-size="6.4" text-anchor="middle" letter-spacing="-0.35">***</text>
<text transform="translate(282.60,419.40) rotate(-90) scale(0.76,1)" font-size="7.0" stroke="#231f20" stroke-width="0.12" text-anchor="middle">Relative cell viability(%)</text>
<rect x="415.30" y="401.60" width="5.40" height="5.40" fill="#c8102e"/>
<text x="423.90" y="406.48" font-size="6.1">DMSO</text>
<rect x="458.20" y="401.60" width="5.40" height="5.40" fill="#0c5e3e"/>
<text x="466.80" y="406.48" font-size="6.1">BTZ+NAC</text>
<rect x="415.30" y="411.00" width="5.40" height="5.40" fill="#3dae49"/>
<text x="423.90" y="415.88" font-size="6.1">BTZ</text>
<rect x="458.20" y="411.00" width="5.40" height="5.40" fill="#c8c6ca"/>
<text x="466.80" y="415.88" font-size="6.1">RSL3+NAC</text>
<rect x="415.30" y="420.40" width="5.40" height="5.40" fill="#5a1f6e"/>
<text x="423.90" y="425.28" font-size="6.1">RSL3</text>
<rect x="458.20" y="420.40" width="5.40" height="5.40" fill="#a9bb86"/>
<text x="466.80" y="425.28" font-size="6.1">BTZ+RSL3+NAC</text>
<rect x="415.30" y="429.70" width="5.40" height="5.40" fill="#f39200"/>
<text x="423.90" y="434.58" font-size="6.1">BTZ+RSL3</text>
<rect x="458.20" y="429.70" width="5.40" height="5.40" fill="#8c86c3"/>
<text x="466.80" y="434.58" font-size="6.1">NAC</text>
<text x="107.80" y="495.45" font-size="6.0" text-anchor="middle">NCI-H929</text>
<line x1="54.25" y1="500.25" x2="54.25" y2="576.50" stroke="#231f20" stroke-width="1.2"/>
<line x1="53.65" y1="576.00" x2="161.50" y2="576.00" stroke="#231f20" stroke-width="1.2"/>
<line x1="51.05" y1="576.00" x2="54.25" y2="576.00" stroke="#231f20" stroke-width="1.0"/>
<text x="47.60" y="578.04" font-size="5.7" text-anchor="end">0</text>
<line x1="51.05" y1="551.41" x2="54.25" y2="551.41" stroke="#231f20" stroke-width="1.0"/>
<text x="47.60" y="553.46" font-size="5.7" text-anchor="end">50</text>
<line x1="51.05" y1="526.83" x2="54.25" y2="526.83" stroke="#231f20" stroke-width="1.0"/>
<text x="47.60" y="528.87" font-size="5.7" text-anchor="end">100</text>
<line x1="51.05" y1="502.25" x2="54.25" y2="502.25" stroke="#231f20" stroke-width="1.0"/>
<text x="47.60" y="504.29" font-size="5.7" text-anchor="end">150</text>
<rect x="57.35" y="528.31" width="7.70" height="47.69" fill="#c8102e"/>
<line x1="61.20" y1="522.90" x2="61.20" y2="528.31" stroke="#231f20" stroke-width="0.9"/>
<line x1="58.40" y1="522.90" x2="64.00" y2="522.90" stroke="#231f20" stroke-width="1.0"/>
<line x1="61.20" y1="576.00" x2="61.20" y2="578.20" stroke="#231f20" stroke-width="0.9"/>
<rect x="70.45" y="534.70" width="7.70" height="41.30" fill="#3dae49"/>
<line x1="74.30" y1="527.32" x2="74.30" y2="534.70" stroke="#231f20" stroke-width="0.9"/>
<line x1="71.50" y1="527.32" x2="77.10" y2="527.32" stroke="#231f20" stroke-width="1.0"/>
<line x1="74.30" y1="576.00" x2="74.30" y2="578.20" stroke="#231f20" stroke-width="0.9"/>
<rect x="83.95" y="535.68" width="7.70" height="40.32" fill="#5a1f6e"/>
<line x1="87.80" y1="530.76" x2="87.80" y2="535.68" stroke="#231f20" stroke-width="0.9"/>
<line x1="85.00" y1="530.76" x2="90.60" y2="530.76" stroke="#231f20" stroke-width="1.0"/>
<line x1="87.80" y1="576.00" x2="87.80" y2="578.20" stroke="#231f20" stroke-width="0.9"/>
<rect x="97.25" y="552.40" width="7.70" height="23.60" fill="#f39200"/>
<line x1="101.10" y1="548.96" x2="101.10" y2="552.40" stroke="#231f20" stroke-width="0.9"/>
<line x1="98.30" y1="548.96" x2="103.90" y2="548.96" stroke="#231f20" stroke-width="1.0"/>
<line x1="101.10" y1="576.00" x2="101.10" y2="578.20" stroke="#231f20" stroke-width="0.9"/>
<rect x="110.65" y="529.78" width="7.70" height="46.22" fill="#0c5e3e"/>
<line x1="114.50" y1="521.91" x2="114.50" y2="529.78" stroke="#231f20" stroke-width="0.9"/>
<line x1="111.70" y1="521.91" x2="117.30" y2="521.91" stroke="#231f20" stroke-width="1.0"/>
<line x1="114.50" y1="576.00" x2="114.50" y2="578.20" stroke="#231f20" stroke-width="0.9"/>
<rect x="123.85" y="532.73" width="7.70" height="43.27" fill="#c8c6ca"/>
<line x1="127.70" y1="525.85" x2="127.70" y2="532.73" stroke="#231f20" stroke-width="0.9"/>
<line x1="124.90" y1="525.85" x2="130.50" y2="525.85" stroke="#231f20" stroke-width="1.0"/>
<line x1="127.70" y1="576.00" x2="127.70" y2="578.20" stroke="#231f20" stroke-width="0.9"/>
<rect x="137.15" y="537.16" width="7.70" height="38.84" fill="#a9bb86"/>
<line x1="141.00" y1="535.19" x2="141.00" y2="537.16" stroke="#231f20" stroke-width="0.9"/>
<line x1="138.20" y1="535.19" x2="143.80" y2="535.19" stroke="#231f20" stroke-width="1.0"/>
<line x1="141.00" y1="576.00" x2="141.00" y2="578.20" stroke="#231f20" stroke-width="0.9"/>
<rect x="150.65" y="529.78" width="7.70" height="46.22" fill="#8c86c3"/>
<line x1="154.50" y1="521.42" x2="154.50" y2="529.78" stroke="#231f20" stroke-width="0.9"/>
<line x1="151.70" y1="521.42" x2="157.30" y2="521.42" stroke="#231f20" stroke-width="1.0"/>
<line x1="154.50" y1="576.00" x2="154.50" y2="578.20" stroke="#231f20" stroke-width="0.9"/>
<line x1="74.30" y1="515.30" x2="101.10" y2="515.30" stroke="#3a3a3a" stroke-width="0.9"/>
<line x1="74.30" y1="514.85" x2="74.30" y2="519.20" stroke="#3a3a3a" stroke-width="0.9"/>
<line x1="101.10" y1="514.85" x2="101.10" y2="519.20" stroke="#3a3a3a" stroke-width="0.9"/>
<text x="87.70" y="516.24" font-size="6.4" text-anchor="middle" letter-spacing="-0.35">*</text>
<line x1="87.80" y1="525.40" x2="101.10" y2="525.40" stroke="#3a3a3a" stroke-width="0.9"/>
<line x1="87.80" y1="524.95" x2="87.80" y2="529.30" stroke="#3a3a3a" stroke-width="0.9"/>
<line x1="101.10" y1="524.95" x2="101.10" y2="529.30" stroke="#3a3a3a" stroke-width="0.9"/>
<text x="94.45" y="526.34" font-size="6.4" text-anchor="middle" letter-spacing="-0.35">*</text>
<line x1="101.10" y1="506.90" x2="141.00" y2="506.90" stroke="#3a3a3a" stroke-width="0.9"/>
<line x1="101.10" y1="506.45" x2="101.10" y2="510.80" stroke="#3a3a3a" stroke-width="0.9"/>
<line x1="141.00" y1="506.45" x2="141.00" y2="510.80" stroke="#3a3a3a" stroke-width="0.9"/>
<text x="121.05" y="507.84" font-size="6.4" text-anchor="middle" letter-spacing="-0.35">*</text>
<text transform="translate(34.20,538.30) rotate(-90) scale(0.76,1)" font-size="7.0" stroke="#231f20" stroke-width="0.12" text-anchor="middle">Relative cell viability(%)</text>
<rect x="166.50" y="520.80" width="5.40" height="5.40" fill="#c8102e"/>
<text x="175.10" y="525.68" font-size="6.1">DMSO</text>
<rect x="209.70" y="520.80" width="5.40" height="5.40" fill="#0c5e3e"/>
<text x="218.30" y="525.68" font-size="6.1">BTZ+Trolox</text>
<rect x="166.50" y="529.80" width="5.40" height="5.40" fill="#3dae49"/>
<text x="175.10" y="534.68" font-size="6.1">BTZ</text>
<rect x="209.70" y="529.80" width="5.40" height="5.40" fill="#c8c6ca"/>
<text x="218.30" y="534.68" font-size="6.1">RSL3+Trolox</text>
<rect x="166.50" y="539.30" width="5.40" height="5.40" fill="#5a1f6e"/>
<text x="175.10" y="544.18" font-size="6.1">RSL3</text>
<rect x="209.70" y="539.30" width="5.40" height="5.40" fill="#a9bb86"/>
<text x="218.30" y="544.18" font-size="6.1">BTZ+RSL3+Trolox</text>
<rect x="166.50" y="548.90" width="5.40" height="5.40" fill="#f39200"/>
<text x="175.10" y="553.78" font-size="6.1">BTZ+RSL3</text>
<rect x="209.70" y="548.90" width="5.40" height="5.40" fill="#8c86c3"/>
<text x="218.30" y="553.78" font-size="6.1">Trolox</text>
<text x="356.70" y="495.15" font-size="6.0" text-anchor="middle">OPM-2</text>
<line x1="303.40" y1="499.91" x2="303.40" y2="576.70" stroke="#231f20" stroke-width="1.2"/>
<line x1="302.80" y1="576.20" x2="410.50" y2="576.20" stroke="#231f20" stroke-width="1.2"/>
<line x1="300.20" y1="576.20" x2="303.40" y2="576.20" stroke="#231f20" stroke-width="1.0"/>
<text x="297.10" y="578.24" font-size="5.7" text-anchor="end">0</text>
<line x1="300.20" y1="551.44" x2="303.40" y2="551.44" stroke="#231f20" stroke-width="1.0"/>
<text x="297.10" y="553.48" font-size="5.7" text-anchor="end">50</text>
<line x1="300.20" y1="526.67" x2="303.40" y2="526.67" stroke="#231f20" stroke-width="1.0"/>
<text x="297.10" y="528.71" font-size="5.7" text-anchor="end">100</text>
<line x1="300.20" y1="501.91" x2="303.40" y2="501.91" stroke="#231f20" stroke-width="1.0"/>
<text x="297.10" y="503.95" font-size="5.7" text-anchor="end">150</text>
<rect x="305.55" y="526.17" width="7.70" height="50.03" fill="#c8102e"/>
<line x1="309.40" y1="524.19" x2="309.40" y2="526.17" stroke="#231f20" stroke-width="0.9"/>
<line x1="306.60" y1="524.19" x2="312.20" y2="524.19" stroke="#231f20" stroke-width="1.0"/>
<line x1="309.40" y1="576.20" x2="309.40" y2="578.40" stroke="#231f20" stroke-width="0.9"/>
<rect x="319.35" y="535.59" width="7.70" height="40.61" fill="#3dae49"/>
<line x1="323.20" y1="533.60" x2="323.20" y2="535.59" stroke="#231f20" stroke-width="0.9"/>
<line x1="320.40" y1="533.60" x2="326.00" y2="533.60" stroke="#231f20" stroke-width="1.0"/>
<line x1="323.20" y1="576.20" x2="323.20" y2="578.40" stroke="#231f20" stroke-width="0.9"/>
<rect x="332.55" y="537.07" width="7.70" height="39.13" fill="#5a1f6e"/>
<line x1="336.40" y1="534.59" x2="336.40" y2="537.07" stroke="#231f20" stroke-width="0.9"/>
<line x1="333.60" y1="534.59" x2="339.20" y2="534.59" stroke="#231f20" stroke-width="1.0"/>
<line x1="336.40" y1="576.20" x2="336.40" y2="578.40" stroke="#231f20" stroke-width="0.9"/>
<rect x="346.05" y="552.43" width="7.70" height="23.77" fill="#f39200"/>
<line x1="349.90" y1="550.94" x2="349.90" y2="552.43" stroke="#231f20" stroke-width="0.9"/>
<line x1="347.10" y1="550.94" x2="352.70" y2="550.94" stroke="#231f20" stroke-width="1.0"/>
<line x1="349.90" y1="576.20" x2="349.90" y2="578.40" stroke="#231f20" stroke-width="0.9"/>
<rect x="359.45" y="536.58" width="7.70" height="39.62" fill="#0c5e3e"/>
<line x1="363.30" y1="531.13" x2="363.30" y2="536.58" stroke="#231f20" stroke-width="0.9"/>
<line x1="360.50" y1="531.13" x2="366.10" y2="531.13" stroke="#231f20" stroke-width="1.0"/>
<line x1="363.30" y1="576.20" x2="363.30" y2="578.40" stroke="#231f20" stroke-width="0.9"/>
<rect x="372.65" y="531.62" width="7.70" height="44.58" fill="#c8c6ca"/>
<line x1="376.50" y1="530.14" x2="376.50" y2="531.62" stroke="#231f20" stroke-width="0.9"/>
<line x1="373.70" y1="530.14" x2="379.30" y2="530.14" stroke="#231f20" stroke-width="1.0"/>
<line x1="376.50" y1="576.20" x2="376.50" y2="578.40" stroke="#231f20" stroke-width="0.9"/>
<rect x="385.85" y="536.08" width="7.70" height="40.12" fill="#a9bb86"/>
<line x1="389.70" y1="532.12" x2="389.70" y2="536.08" stroke="#231f20" stroke-width="0.9"/>
<line x1="386.90" y1="532.12" x2="392.50" y2="532.12" stroke="#231f20" stroke-width="1.0"/>
<line x1="389.70" y1="576.20" x2="389.70" y2="578.40" stroke="#231f20" stroke-width="0.9"/>
<rect x="399.45" y="528.16" width="7.70" height="48.04" fill="#8c86c3"/>
<line x1="403.30" y1="525.68" x2="403.30" y2="528.16" stroke="#231f20" stroke-width="0.9"/>
<line x1="400.50" y1="525.68" x2="406.10" y2="525.68" stroke="#231f20" stroke-width="1.0"/>
<line x1="403.30" y1="576.20" x2="403.30" y2="578.40" stroke="#231f20" stroke-width="0.9"/>
<line x1="323.20" y1="516.70" x2="349.90" y2="516.70" stroke="#3a3a3a" stroke-width="0.9"/>
<line x1="323.20" y1="516.25" x2="323.20" y2="520.60" stroke="#3a3a3a" stroke-width="0.9"/>
<line x1="349.90" y1="516.25" x2="349.90" y2="520.60" stroke="#3a3a3a" stroke-width="0.9"/>
<text x="336.55" y="517.64" font-size="6.4" text-anchor="middle" letter-spacing="-0.35">***</text>
<line x1="336.40" y1="528.40" x2="349.90" y2="528.40" stroke="#3a3a3a" stroke-width="0.9"/>
<line x1="336.40" y1="527.95" x2="336.40" y2="532.30" stroke="#3a3a3a" stroke-width="0.9"/>
<line x1="349.90" y1="527.95" x2="349.90" y2="532.30" stroke="#3a3a3a" stroke-width="0.9"/>
<text x="343.15" y="529.34" font-size="6.4" text-anchor="middle" letter-spacing="-0.35">***</text>
<line x1="349.90" y1="508.40" x2="389.70" y2="508.40" stroke="#3a3a3a" stroke-width="0.9"/>
<line x1="349.90" y1="507.95" x2="349.90" y2="512.30" stroke="#3a3a3a" stroke-width="0.9"/>
<line x1="389.70" y1="507.95" x2="389.70" y2="512.30" stroke="#3a3a3a" stroke-width="0.9"/>
<text x="369.80" y="509.34" font-size="6.4" text-anchor="middle" letter-spacing="-0.35">***</text>
<text transform="translate(283.30,539.00) rotate(-90) scale(0.76,1)" font-size="7.0" stroke="#231f20" stroke-width="0.12" text-anchor="middle">Relative cell viability(%)</text>
<rect x="415.30" y="520.60" width="5.40" height="5.40" fill="#c8102e"/>
<text x="423.90" y="525.48" font-size="6.1">DMSO</text>
<rect x="458.20" y="520.60" width="5.40" height="5.40" fill="#0c5e3e"/>
<text x="466.80" y="525.48" font-size="6.1">BTZ+Trolox</text>
<rect x="415.30" y="529.60" width="5.40" height="5.40" fill="#3dae49"/>
<text x="423.90" y="534.48" font-size="6.1">BTZ</text>
<rect x="458.20" y="529.60" width="5.40" height="5.40" fill="#c8c6ca"/>
<text x="466.80" y="534.48" font-size="6.1">RSL3+Trolox</text>
<rect x="415.30" y="539.30" width="5.40" height="5.40" fill="#5a1f6e"/>
<text x="423.90" y="544.18" font-size="6.1">RSL3</text>
<rect x="458.20" y="539.30" width="5.40" height="5.40" fill="#a9bb86"/>
<text x="466.80" y="544.18" font-size="6.1">BTZ+RSL3+Trolox</text>
<rect x="415.30" y="549.00" width="5.40" height="5.40" fill="#f39200"/>
<text x="423.90" y="553.88" font-size="6.1">BTZ+RSL3</text>
<rect x="458.20" y="549.00" width="5.40" height="5.40" fill="#8c86c3"/>
<text x="466.80" y="553.88" font-size="6.1">Trolox</text>
</svg></body></html>
